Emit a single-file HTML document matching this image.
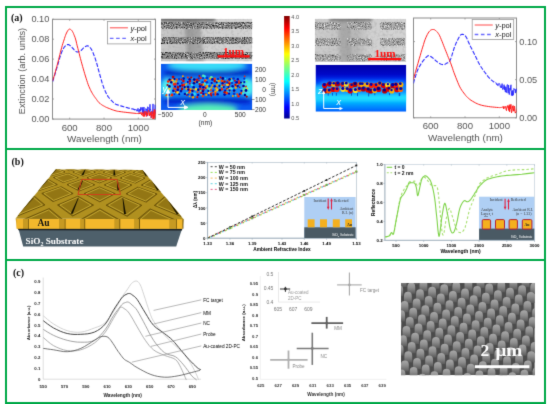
<!DOCTYPE html>
<html><head><meta charset="utf-8"><style>
html,body{margin:0;padding:0;background:#fff;}
body{width:550px;height:404px;overflow:hidden;}
svg{display:block;}
</style></head><body>
<svg width="550" height="404" viewBox="0 0 550 404">
<defs><filter id="gb" color-interpolation-filters="sRGB" filterUnits="userSpaceOnUse" x="0" y="0" width="550" height="404"><feConvolveMatrix order="3" kernelMatrix="0.0183 0.1353 0.0183 0.1353 1.0000 0.1353 0.0183 0.1353 0.0183" edgeMode="duplicate" preserveAlpha="true"/></filter></defs>
<g filter="url(#gb)">
<rect width="550" height="404" fill="#fff"/>
<text x="11" y="21" font-size="10" fill="#111" text-anchor="start" font-family="Liberation Serif" font-weight="bold">(a)</text>
<rect x="52.5" y="19.3" width="103" height="99.8" fill="none" stroke="#8c8c8c" stroke-width="1"/>
<line x1="69.7" y1="119.1" x2="69.7" y2="117.6" stroke="#8c8c8c" stroke-width="0.8"/>
<line x1="69.7" y1="19.3" x2="69.7" y2="20.8" stroke="#8c8c8c" stroke-width="0.8"/>
<text x="69.7" y="130.6" font-size="9.6" fill="#555" text-anchor="middle" font-family="Liberation Sans">600</text>
<line x1="104" y1="119.1" x2="104" y2="117.6" stroke="#8c8c8c" stroke-width="0.8"/>
<line x1="104" y1="19.3" x2="104" y2="20.8" stroke="#8c8c8c" stroke-width="0.8"/>
<text x="104" y="130.6" font-size="9.6" fill="#555" text-anchor="middle" font-family="Liberation Sans">800</text>
<line x1="138.3" y1="119.1" x2="138.3" y2="117.6" stroke="#8c8c8c" stroke-width="0.8"/>
<line x1="138.3" y1="19.3" x2="138.3" y2="20.8" stroke="#8c8c8c" stroke-width="0.8"/>
<text x="138.3" y="130.6" font-size="9.6" fill="#555" text-anchor="middle" font-family="Liberation Sans">1000</text>
<line x1="52.5" y1="119" x2="54" y2="119" stroke="#8c8c8c" stroke-width="0.8"/>
<line x1="155.5" y1="119" x2="154" y2="119" stroke="#8c8c8c" stroke-width="0.8"/>
<text x="49.3" y="122.2" font-size="9.2" fill="#555" text-anchor="end" font-family="Liberation Sans">0.00</text>
<line x1="52.5" y1="99" x2="54" y2="99" stroke="#8c8c8c" stroke-width="0.8"/>
<line x1="155.5" y1="99" x2="154" y2="99" stroke="#8c8c8c" stroke-width="0.8"/>
<text x="49.3" y="102.2" font-size="9.2" fill="#555" text-anchor="end" font-family="Liberation Sans">0.02</text>
<line x1="52.5" y1="79.1" x2="54" y2="79.1" stroke="#8c8c8c" stroke-width="0.8"/>
<line x1="155.5" y1="79.1" x2="154" y2="79.1" stroke="#8c8c8c" stroke-width="0.8"/>
<text x="49.3" y="82.3" font-size="9.2" fill="#555" text-anchor="end" font-family="Liberation Sans">0.04</text>
<line x1="52.5" y1="59.1" x2="54" y2="59.1" stroke="#8c8c8c" stroke-width="0.8"/>
<line x1="155.5" y1="59.1" x2="154" y2="59.1" stroke="#8c8c8c" stroke-width="0.8"/>
<text x="49.3" y="62.3" font-size="9.2" fill="#555" text-anchor="end" font-family="Liberation Sans">0.06</text>
<line x1="52.5" y1="39.2" x2="54" y2="39.2" stroke="#8c8c8c" stroke-width="0.8"/>
<line x1="155.5" y1="39.2" x2="154" y2="39.2" stroke="#8c8c8c" stroke-width="0.8"/>
<text x="49.3" y="42.4" font-size="9.2" fill="#555" text-anchor="end" font-family="Liberation Sans">0.08</text>
<line x1="52.5" y1="19.2" x2="54" y2="19.2" stroke="#8c8c8c" stroke-width="0.8"/>
<line x1="155.5" y1="19.2" x2="154" y2="19.2" stroke="#8c8c8c" stroke-width="0.8"/>
<text x="49.3" y="22.4" font-size="9.2" fill="#555" text-anchor="end" font-family="Liberation Sans">0.10</text>
<clipPath id="cp52"><rect x="52.5" y="19.3" width="103" height="99.8"/></clipPath>
<g clip-path="url(#cp52)">
<polyline points="52.7,81.5 53,80.5 53.4,79.2 53.9,77.5 54.5,75.8 55,74 55.6,72.2 56.1,70.2 56.8,68.1 57.4,66 58,64 58.6,61.9 59.2,59.8 59.8,57.7 60.4,55.8 61,54 61.6,52.4 62.2,51 62.8,49.7 63.4,48.5 64,47.5 64.7,46.6 65.4,45.9 66.1,45.3 66.9,44.9 67.5,44.6 68.1,44.5 68.5,44.6 69,44.8 69.5,45.1 70,45.5 70.6,46 71.2,46.5 71.8,47.2 72.4,47.9 73,48.5 73.6,49.1 74.2,49.8 74.9,50.5 75.5,51.1 76,51.5 76.5,51.8 76.9,51.9 77.3,52 77.7,52 78.2,51.9 78.7,51.8 79.3,51.5 79.8,51.3 80.4,50.9 81,50.5 81.6,50 82.2,49.3 82.8,48.7 83.4,48 84,47.5 84.5,47.1 85.1,46.7 85.6,46.4 86,46.2 86.5,46 86.9,45.9 87.4,45.9 87.8,45.9 88.2,46 88.6,46.2 89,46.4 89.4,46.7 89.8,47.1 90.1,47.5 90.5,48 90.8,48.4 91.1,48.8 91.5,49.3 91.8,50 92.3,51 92.9,52.4 93.6,54.2 94.3,56.1 95.1,58.2 95.8,60.4 96.5,62.6 97.2,65 97.8,67.5 98.5,70 99.2,72.5 99.9,75 100.6,77.5 101.3,80 102,82.4 102.7,84.6 103.4,86.6 104.1,88.5 104.8,90.2 105.5,91.8 106.2,93.3 106.9,94.6 107.5,95.6 108.1,96.6 108.8,97.5 109.6,98.5 110.6,99.6 111.6,100.7 112.8,101.9 113.9,102.9 115,103.7 115.9,104.3 116.8,104.7 117.7,104.9 118.7,105.2 120,105.6 121.7,106.1 123.6,106.7 125.8,107.3 127.9,107.9 130,108.4 132,108.9 132.3,108.9 132.7,109 133,109.1 133.3,109 133.7,109.3 134,109.5 134.3,109.4 134.7,109.9 135,109.2" fill="none" stroke="#2a2aff" stroke-width="1.1" stroke-linejoin="round" stroke-dasharray="4.2 1.5"/>
<polyline points="134.7,109.9 135,109.2 135.3,109.9 135.7,109.8 136,109.9 136.3,109.6 136.7,110.8 137,111.3 137.3,109.8 137.7,110.6 138,108.3 138.3,110.9 138.7,110.8 139,112.5 139.3,111.8 139.7,109.1 140,109.7 140.3,111.3 140.7,107.4 141,110.2 141.4,108.2 141.7,107.8 142.1,107.3 142.4,112.6 142.7,107.7 143,108.6 143.3,109.7 143.6,113.8 143.9,107 144.2,110.2 144.5,111.2 144.9,114.4 145.2,113.9 145.6,114.5 145.9,108.5 146.3,109.9 146.6,109.3 146.9,115.1 147.3,116.1 147.6,106.8 147.9,107 148.3,107.7 148.6,107.6 149,110.8 149.3,112.1 149.7,107.8 150,104.3 150.3,109.9 150.6,109.2 150.9,112 151.2,117.6 151.6,113.9 151.9,111.3 152.3,112.9 152.6,113.8 153,103.9 153.3,117.4 153.6,115.5 153.9,117 154.2,115.8 154.6,109.3 154.9,109.4 155.2,104.7 155.6,113.2 156,111" fill="none" stroke="#2a2aff" stroke-width="0.9" stroke-linejoin="round"/>
<polyline points="52.7,80.8 53,79.8 53.4,78.4 53.9,76.7 54.5,74.9 55,73 55.6,71 56.1,68.9 56.8,66.6 57.4,64.3 58,62 58.6,59.6 59.2,57.2 59.8,54.7 60.4,52.3 61,50 61.6,47.8 62.2,45.7 62.8,43.7 63.4,41.8 64,40 64.5,38.4 65,36.8 65.5,35.4 66,34.1 66.5,33 67,32 67.5,31.1 68,30.3 68.5,29.7 69,29.3 69.4,29.1 69.8,29.1 70.2,29.2 70.6,29.5 71,29.8 71.4,30.1 71.8,30.5 72.2,31 72.6,31.7 73,32.5 73.5,33.5 73.9,34.6 74.4,35.8 75,37.3 75.5,39 76.1,41 76.6,43.3 77.2,45.8 77.9,48.4 78.5,50.9 79.2,53.4 79.8,56.1 80.5,58.7 81.2,61.3 81.9,63.9 82.6,66.4 83.3,68.9 84,71.3 84.7,73.7 85.4,76 86.1,78.2 86.8,80.5 87.5,82.6 88.2,84.6 88.9,86.4 89.6,88 90.3,89.5 90.9,90.8 91.6,92.1 92.3,93.3 93,94.5 93.7,95.5 94.4,96.6 95.1,97.5 95.8,98.5 96.5,99.4 97.2,100.4 97.8,101.2 98.5,102.1 99.2,102.8 99.9,103.4 100.5,104 101.2,104.4 101.9,104.9 102.7,105.4 103.6,105.9 104.6,106.4 105.6,107 106.7,107.5 107.9,108 109.2,108.5 110.7,109.1 112.2,109.7 113.7,110.2 115,110.6 116.1,110.9 116.9,111.1 117.7,111.3 118.7,111.4 120,111.6 121.7,111.8 123.6,112.1 125.8,112.3 127.9,112.6 130,112.8 132,113 134,113.2 136,113.4 136.3,113.5 136.7,113.5 137,113.5 137.3,113.5 137.7,113.4 138,113.8 138.3,113.2 138.7,113.7 139,113.5 139.3,112.9 139.7,113.8 140,112.7 140.3,113.6 140.7,112.6 141,112.5 141.4,113.6 141.7,115.1 142.1,112.4 142.4,112.8 142.7,114.5 143,116.1 143.3,114.4 143.6,113.5 143.9,116.7 144.2,111.4 144.5,116.2 144.9,112.8 145.2,111.8 145.6,111.5 145.9,112.8 146.3,116.5 146.6,111.7 146.9,114.8 147.3,115.3 147.6,113.1 147.9,114.6 148.3,110.3 148.6,110.2 149,111.4 149.3,116 149.7,113.6 150,112.4 150.3,115.2 150.6,113.8 150.9,112.1 151.2,117.7 151.6,116.7 151.9,111.3 152.3,115.3 152.6,114.7 153,119.2 153.3,117.4 153.6,111.7 153.9,120.7 154.2,109.5 154.6,113.4 154.9,117.8 155.2,110 155.6,114.3 156,114.5" fill="none" stroke="#ff2020" stroke-width="1" stroke-linejoin="round"/>
</g>
<rect x="107.4" y="21.5" width="43.3" height="22.4" fill="#fff" stroke="#999" stroke-width="0.8"/>
<line x1="109.9" y1="27.8" x2="127.9" y2="27.8" stroke="#ff5a5a" stroke-width="1.1"/>
<line x1="109.9" y1="38.3" x2="127.9" y2="38.3" stroke="#6a6aff" stroke-width="1.3" stroke-dasharray="3.6 2.6"/>
<text x="130.4" y="30.5" font-size="7.5" fill="#111" text-anchor="start" font-family="Liberation Sans"><tspan font-style="italic">y</tspan>-pol</text>
<text x="130.4" y="41" font-size="7.5" fill="#222" text-anchor="start" font-family="Liberation Sans"><tspan font-style="italic">x</tspan>-pol</text>
<text x="24.5" y="71" font-size="9.2" fill="#555" text-anchor="middle" font-family="Liberation Sans" transform="rotate(-90 24.5 71)">Extinction (arb. units)</text>
<text x="104.5" y="141.8" font-size="9.9" fill="#555" text-anchor="middle" font-family="Liberation Sans">Wavelength (nm)</text>
<rect x="413.5" y="18" width="103" height="99.8" fill="none" stroke="#8c8c8c" stroke-width="1"/>
<line x1="430.7" y1="117.8" x2="430.7" y2="116.3" stroke="#8c8c8c" stroke-width="0.8"/>
<line x1="430.7" y1="18" x2="430.7" y2="19.5" stroke="#8c8c8c" stroke-width="0.8"/>
<text x="430.7" y="129.3" font-size="9.6" fill="#555" text-anchor="middle" font-family="Liberation Sans">600</text>
<line x1="465" y1="117.8" x2="465" y2="116.3" stroke="#8c8c8c" stroke-width="0.8"/>
<line x1="465" y1="18" x2="465" y2="19.5" stroke="#8c8c8c" stroke-width="0.8"/>
<text x="465" y="129.3" font-size="9.6" fill="#555" text-anchor="middle" font-family="Liberation Sans">800</text>
<line x1="499.3" y1="117.8" x2="499.3" y2="116.3" stroke="#8c8c8c" stroke-width="0.8"/>
<line x1="499.3" y1="18" x2="499.3" y2="19.5" stroke="#8c8c8c" stroke-width="0.8"/>
<text x="499.3" y="129.3" font-size="9.6" fill="#555" text-anchor="middle" font-family="Liberation Sans">1000</text>
<line x1="516.5" y1="117.8" x2="515" y2="117.8" stroke="#8c8c8c" stroke-width="0.8"/>
<line x1="413.5" y1="117.8" x2="415" y2="117.8" stroke="#8c8c8c" stroke-width="0.8"/>
<text x="519.3" y="121" font-size="9.2" fill="#555" text-anchor="start" font-family="Liberation Sans">0.00</text>
<line x1="516.5" y1="79.7" x2="515" y2="79.7" stroke="#8c8c8c" stroke-width="0.8"/>
<line x1="413.5" y1="79.7" x2="415" y2="79.7" stroke="#8c8c8c" stroke-width="0.8"/>
<text x="519.3" y="82.9" font-size="9.2" fill="#555" text-anchor="start" font-family="Liberation Sans">0.05</text>
<line x1="516.5" y1="41.6" x2="515" y2="41.6" stroke="#8c8c8c" stroke-width="0.8"/>
<line x1="413.5" y1="41.6" x2="415" y2="41.6" stroke="#8c8c8c" stroke-width="0.8"/>
<text x="519.3" y="44.8" font-size="9.2" fill="#555" text-anchor="start" font-family="Liberation Sans">0.10</text>
<clipPath id="cp413"><rect x="413.5" y="18" width="103" height="99.8"/></clipPath>
<g clip-path="url(#cp413)">
<polyline points="413.5,83.4 413.6,83 413.7,82.4 413.9,81.6 414.1,80.6 414.5,79.4 415,77.7 415.7,75.7 416.4,73.5 417.1,71.4 417.9,69.5 418.7,67.9 419.5,66.4 420.3,65.1 421.1,63.8 421.9,62.6 422.7,61.4 423.5,60.3 424.3,59.3 425.1,58.4 425.8,57.6 426.5,57 427.1,56.4 427.6,56 428.2,55.7 428.8,55.6 429.4,55.7 430,55.9 430.5,56.3 431.1,56.7 431.8,57.2 432.5,57.8 433.3,58.4 434.1,59.2 434.9,59.9 435.7,60.6 436.5,61.3 437.3,61.9 438.1,62.6 438.9,63.1 439.7,63.6 440.5,64 441.4,64.3 442.2,64.5 443,64.6 443.7,64.6 444.3,64.5 444.9,64.3 445.5,64 446,63.6 446.6,63.2 447.2,62.9 447.9,62.8 448.5,62.6 449.2,61.9 450,60.6 450.9,58.4 451.9,55.4 452.9,52.1 453.9,48.8 454.9,46 455.9,43.6 457,41.3 458,39.2 458.9,37.5 459.8,36.1 460.5,35.2 461.1,34.6 461.7,34.4 462.2,34.3 462.8,34.4 463.4,34.5 464,34.8 464.7,35.2 465.3,35.9 466,36.8 466.7,38 467.4,39.5 468.1,41.2 468.9,43 469.7,44.8 470.6,46.7 471.6,48.6 472.6,50.6 473.7,52.7 474.7,54.7 475.7,56.7 476.7,58.8 477.6,60.8 478.6,62.8 479.6,64.6 480.6,66.3 481.6,67.8 482.6,69.2 483.6,70.6 484.6,72 485.6,73.3 486.6,74.7 487.5,75.9 488.5,77.1 489.5,78.2 490.5,79.2 491.5,80.1 492.5,80.9 493.5,81.7 493.8,81.9 494.2,82.1 494.5,82.4 494.8,82.5 495.2,82.4 495.5,82.4 495.8,82.9" fill="none" stroke="#2a2aff" stroke-width="1.1" stroke-linejoin="round" stroke-dasharray="4.2 1.5"/>
<polyline points="495.8,82.9 496.1,82.9 496.5,83.9 496.8,84.7 497.1,83.7 497.4,85.2 497.8,85.6 498.1,85.8 498.4,83.9 498.7,83.5 499.1,83.6 499.4,83.6 499.7,83.7 500.1,85.8 500.4,87.5 500.7,87.4 501.1,85.6 501.4,86.8 501.7,88 502.1,83.6 502.4,87.5 502.7,89.5 503.1,88.8 503.4,88.8 503.7,86.9 504.1,84.7 504.4,89.8 504.7,86.1 505.1,90.3 505.4,92.1 505.7,87 506,87.1 506.4,92.6 506.7,90.6 507,85 507.3,84.5 507.7,84.8 508,93.2 508.3,92.3 508.6,85.1 509,92.8 509.3,94.6 509.6,91.2 510,88 510.3,90.3 510.7,85.9 511,84.8 511.4,95.5 511.8,92.2 512.1,91 512.5,95.7 512.8,90.3 513.1,95.3 513.4,95 513.9,88.4 514.3,89.1 514.7,89.7 515,89.2 515.4,93.1 515.7,89.6 516.2,91.5 516.7,88.4 517,92.5" fill="none" stroke="#2a2aff" stroke-width="0.9" stroke-linejoin="round"/>
<polyline points="413.5,79.4 413.7,78.7 413.9,77.7 414.2,76.4 414.6,75 415,73.5 415.5,71.8 416,70 416.6,68 417.2,65.9 417.9,63.6 418.6,61 419.4,58.2 420.3,55.3 421.1,52.4 421.9,49.7 422.7,47.1 423.5,44.6 424.2,42.1 425,39.8 425.8,37.8 426.6,36 427.4,34.4 428.2,33 429,31.8 429.8,30.9 430.6,30.2 431.3,29.8 432,29.6 432.7,29.5 433.4,29.5 434.1,29.6 434.8,29.9 435.4,30.4 436.1,30.9 436.7,31.5 437.3,32.1 437.9,32.8 438.4,33.6 439,34.5 439.7,35.8 440.4,37.4 441.2,39.4 442.1,41.5 442.9,43.6 443.7,45.7 444.5,47.7 445.3,49.7 446.1,51.7 446.9,53.7 447.6,55.6 448.3,57.3 449,58.9 449.6,60.5 450.3,62.2 451,64 451.7,66 452.5,68.2 453.2,70.4 454,72.7 454.9,75 455.8,77.4 456.8,79.9 457.8,82.4 458.8,84.8 459.8,86.9 460.8,88.7 461.8,90.3 462.8,91.7 463.8,93 464.8,94.3 465.7,95.5 466.6,96.5 467.6,97.5 468.6,98.4 469.7,99.3 471,100.3 472.5,101.2 474.1,102.1 475.7,103 477.2,103.7 478.6,104.3 480,104.8 481.5,105.2 483,105.6 484.6,105.9 486.4,106.2 488.4,106.5 490.4,106.8 492.5,107 494.5,107.2 496.5,107.4 498.5,107.5 498.8,107.5 499.1,107.6 499.4,107.6 499.8,107.6 500.1,107.6 500.4,107.5 500.8,107.5 501.1,107.4 501.4,107.5 501.8,107.1 502.1,106.9 502.4,107.1 502.8,106.9 503.1,107.5 503.4,106.5 503.7,109 504.1,108.2 504.4,106.7 504.7,107 505.1,107.3 505.4,107.4 505.8,106.3 506.1,109.8 506.5,110.6 506.8,107.9 507.1,108 507.4,105.7 507.8,105.7 508.1,107.2 508.4,106.6 508.7,110.5 509,105.8 509.3,104.7 509.6,111.8 509.9,108.6 510.2,105.5 510.6,108.8 510.9,104.3 511.2,108.7 511.5,112.8 511.8,111.8 512.1,110.3 512.5,106.4 512.8,107.4 513.1,105.6 513.4,111.1 513.7,108.9 514,111.2 514.3,107.2 514.6,106.2 515,111.5 515.3,113.1 515.7,112 516,111.5 516.5,111.7 516.7,111 517,108.8" fill="none" stroke="#ff2020" stroke-width="1" stroke-linejoin="round"/>
</g>
<rect x="472.2" y="19.4" width="41.5" height="20.1" fill="#fff" stroke="#999" stroke-width="0.8"/>
<line x1="474.7" y1="25" x2="492.7" y2="25" stroke="#ff5a5a" stroke-width="1.1"/>
<line x1="474.7" y1="34.5" x2="492.7" y2="34.5" stroke="#6a6aff" stroke-width="1.3" stroke-dasharray="3.6 2.6"/>
<text x="495.2" y="27.7" font-size="7.5" fill="#111" text-anchor="start" font-family="Liberation Sans"><tspan font-style="italic">y</tspan>-pol</text>
<text x="495.2" y="37.2" font-size="7.5" fill="#222" text-anchor="start" font-family="Liberation Sans"><tspan font-style="italic">x</tspan>-pol</text>
<text x="465.5" y="141.3" font-size="9.9" fill="#555" text-anchor="middle" font-family="Liberation Sans">Wavelength (nm)</text>
<defs>
<filter id="semn" x="0" y="0" width="100%" height="100%"><feTurbulence type="fractalNoise" baseFrequency="0.9" numOctaves="2" seed="4"/><feColorMatrix type="matrix" values="0 0 0 0 0  0 0 0 0 0  0 0 0 0 0  0 0 0 -2.4 1.35"/></filter>
<filter id="semw" x="0" y="0" width="100%" height="100%"><feTurbulence type="fractalNoise" baseFrequency="0.7" numOctaves="2" seed="9"/><feColorMatrix type="matrix" values="0 0 0 0 1  0 0 0 0 1  0 0 0 0 1  0 0 0 -2.4 1.2"/></filter>
<linearGradient id="jet" x1="0" y1="1" x2="0" y2="0">
<stop offset="0" stop-color="#00008f"/><stop offset="0.11" stop-color="#0000ff"/><stop offset="0.36" stop-color="#00ffff"/><stop offset="0.5" stop-color="#7fff7f"/><stop offset="0.63" stop-color="#ffff00"/><stop offset="0.88" stop-color="#ff0000"/><stop offset="1" stop-color="#7f0000"/></linearGradient>
<linearGradient id="semL" x1="0" y1="0" x2="1" y2="0"><stop offset="0" stop-color="#c9c9c9"/><stop offset="0.3" stop-color="#bdbdbd"/><stop offset="0.4" stop-color="#cfcfcf"/><stop offset="1" stop-color="#d3d3d3"/></linearGradient>
<linearGradient id="semR" x1="0" y1="0" x2="1" y2="0"><stop offset="0" stop-color="#cdcdcd"/><stop offset="0.33" stop-color="#c4c4c4"/><stop offset="0.45" stop-color="#b6b6b6"/><stop offset="0.6" stop-color="#d0d0d0"/><stop offset="1" stop-color="#d4d4d4"/></linearGradient>
<linearGradient id="cmR" x1="0" y1="0" x2="0" y2="1"><stop offset="0" stop-color="#0000a8"/><stop offset="0.2" stop-color="#0008c8"/><stop offset="0.33" stop-color="#0030f0"/><stop offset="0.58" stop-color="#0090ff"/><stop offset="0.7" stop-color="#18d8ff"/><stop offset="0.82" stop-color="#00a8ff"/><stop offset="1" stop-color="#0060ff"/></linearGradient>
<radialGradient id="cyT" cx="0.5" cy="0" r="0.55" gradientTransform="translate(0.5 0) scale(1 0.3) translate(-0.5 0)"><stop offset="0" stop-color="#50f0e8"/><stop offset="0.5" stop-color="#20c0fa" stop-opacity="0.8"/><stop offset="1" stop-color="#0050f0" stop-opacity="0"/></radialGradient>
<radialGradient id="cyB" cx="0.5" cy="1" r="0.55" gradientTransform="translate(0.5 1) scale(1 0.3) translate(-0.5 -1)"><stop offset="0" stop-color="#70f8a8"/><stop offset="0.45" stop-color="#30d8e0" stop-opacity="0.85"/><stop offset="1" stop-color="#0050f0" stop-opacity="0"/></radialGradient>
</defs>
<defs><filter id="semg" x="0" y="0" width="100%" height="100%"><feTurbulence type="fractalNoise" baseFrequency="0.35" numOctaves="2" seed="2"/><feColorMatrix type="matrix" values="0 0 0 0 0.3  0 0 0 0 0.3  0 0 0 0 0.3  0 0 0 -1.4 0.75"/></filter><filter id="sb2" x="-30%" y="-30%" width="160%" height="160%"><feGaussianBlur stdDeviation="1.5"/></filter></defs>
<clipPath id="sc161"><rect x="161" y="18.8" width="91.3" height="42.7"/></clipPath><g clip-path="url(#sc161)">
<rect x="161" y="18.8" width="91.3" height="42.7" fill="url(#semL)"/>
<rect x="161" y="18.8" width="91.3" height="42.7" fill="#000" filter="url(#semg)" opacity="0.6"/>
<g filter="url(#sb2)">
<polygon points="160,17 215,17 215,21.5 160,21.5" fill="#404040" opacity="0.7"/>
<polygon points="184,20 200,20 204,62 188,62" fill="#707070" opacity="0.45"/>
</g>
<rect x="161" y="22" width="91.3" height="6.5" rx="2" fill="#8a8a8a"/>
<rect x="161" y="22" width="91.3" height="6.5" fill="#000" filter="url(#semn)" opacity="1"/>
<rect x="161" y="22" width="91.3" height="6.5" fill="#fff" filter="url(#semw)"/>
<rect x="161" y="37" width="91.3" height="7" rx="2" fill="#8a8a8a"/>
<rect x="161" y="37" width="91.3" height="7" fill="#000" filter="url(#semn)" opacity="1"/>
<rect x="161" y="37" width="91.3" height="7" fill="#fff" filter="url(#semw)"/>
<rect x="161" y="52" width="91.3" height="7" rx="2" fill="#8a8a8a"/>
<rect x="161" y="52" width="91.3" height="7" fill="#000" filter="url(#semn)" opacity="1"/>
<rect x="161" y="52" width="91.3" height="7" fill="#fff" filter="url(#semw)"/>
</g>
<clipPath id="sc314"><rect x="314.8" y="18.7" width="91.4" height="43.3"/></clipPath><g clip-path="url(#sc314)">
<rect x="314.8" y="18.7" width="91.4" height="43.3" fill="url(#semR)"/>
<rect x="314.8" y="18.7" width="91.4" height="43.3" fill="#000" filter="url(#semg)" opacity="0.6"/>
<g filter="url(#sb2)">
<polygon points="330,16 372,16 372,21.5 330,21.5" fill="#505050" opacity="0.6"/>
<polygon points="338,20 350,20 352,62 340,62" fill="#808080" opacity="0.4"/>
</g>
<rect x="315" y="22.2" width="25.5" height="7.2" rx="2" fill="#a8a8a8"/>
<rect x="315" y="22.2" width="25.5" height="7.2" fill="#000" filter="url(#semn)" opacity="0.6"/>
<rect x="315" y="22.2" width="25.5" height="7.2" fill="#fff" filter="url(#semw)"/>
<rect x="347.6" y="22.2" width="24.4" height="7.2" rx="2" fill="#a8a8a8"/>
<rect x="347.6" y="22.2" width="24.4" height="7.2" fill="#000" filter="url(#semn)" opacity="0.6"/>
<rect x="347.6" y="22.2" width="24.4" height="7.2" fill="#fff" filter="url(#semw)"/>
<rect x="380.6" y="22.2" width="24.4" height="7.2" rx="2" fill="#a8a8a8"/>
<rect x="380.6" y="22.2" width="24.4" height="7.2" fill="#000" filter="url(#semn)" opacity="0.6"/>
<rect x="380.6" y="22.2" width="24.4" height="7.2" fill="#fff" filter="url(#semw)"/>
<rect x="315" y="38.3" width="25.5" height="7.1" rx="2" fill="#a8a8a8"/>
<rect x="315" y="38.3" width="25.5" height="7.1" fill="#000" filter="url(#semn)" opacity="0.6"/>
<rect x="315" y="38.3" width="25.5" height="7.1" fill="#fff" filter="url(#semw)"/>
<rect x="347.6" y="38.3" width="24.4" height="7.1" rx="2" fill="#a8a8a8"/>
<rect x="347.6" y="38.3" width="24.4" height="7.1" fill="#000" filter="url(#semn)" opacity="0.6"/>
<rect x="347.6" y="38.3" width="24.4" height="7.1" fill="#fff" filter="url(#semw)"/>
<rect x="380.6" y="38.3" width="24.4" height="7.1" rx="2" fill="#a8a8a8"/>
<rect x="380.6" y="38.3" width="24.4" height="7.1" fill="#000" filter="url(#semn)" opacity="0.6"/>
<rect x="380.6" y="38.3" width="24.4" height="7.1" fill="#fff" filter="url(#semw)"/>
<rect x="315" y="54.3" width="25.5" height="6.5" rx="2" fill="#a8a8a8"/>
<rect x="315" y="54.3" width="25.5" height="6.5" fill="#000" filter="url(#semn)" opacity="0.6"/>
<rect x="315" y="54.3" width="25.5" height="6.5" fill="#fff" filter="url(#semw)"/>
<rect x="347.6" y="54.3" width="24.4" height="6.5" rx="2" fill="#a8a8a8"/>
<rect x="347.6" y="54.3" width="24.4" height="6.5" fill="#000" filter="url(#semn)" opacity="0.6"/>
<rect x="347.6" y="54.3" width="24.4" height="6.5" fill="#fff" filter="url(#semw)"/>
<rect x="380.6" y="54.3" width="24.4" height="6.5" rx="2" fill="#a8a8a8"/>
<rect x="380.6" y="54.3" width="24.4" height="6.5" fill="#000" filter="url(#semn)" opacity="0.6"/>
<rect x="380.6" y="54.3" width="24.4" height="6.5" fill="#fff" filter="url(#semw)"/>
</g>
<rect x="217.6" y="55.2" width="32" height="2.3" fill="#ff1010"/>
<text x="233.6" y="55.2" font-size="11.2" fill="#ff1010" text-anchor="middle" font-family="Liberation Serif" font-weight="bold">1um</text>
<rect x="368.1" y="57.9" width="33" height="2.4" fill="#ff1010"/>
<text x="385.1" y="57" font-size="11.2" fill="#ff1010" text-anchor="middle" font-family="Liberation Serif" font-weight="bold">1um</text>
<defs><filter id="sblur" x="-5%" y="-20%" width="110%" height="140%"><feGaussianBlur stdDeviation="0.45"/></filter><filter id="bblur" x="-20%" y="-50%" width="140%" height="200%"><feGaussianBlur stdDeviation="2"/></filter></defs>
<clipPath id="cmlc"><rect x="161" y="63.7" width="91.3" height="46.3"/></clipPath><g clip-path="url(#cmlc)">
<rect x="161" y="63.7" width="91.3" height="46.3" fill="#0a5af0"/>
<g filter="url(#bblur)">
<ellipse cx="207" cy="65.5" rx="40" ry="5.5" fill="#38dcf8"/>
<ellipse cx="208" cy="109.5" rx="30" ry="5.5" fill="#58f0b8"/>
<rect x="165" y="71" width="85" height="4.5" fill="#0010b8"/>
<rect x="165" y="98" width="85" height="5" fill="#0018c0"/>
<rect x="166" y="76.5" width="83" height="20.5" fill="#1888f8"/>
<ellipse cx="166" cy="87.5" rx="5.5" ry="9" fill="#50f0f0"/><ellipse cx="249" cy="87.5" rx="5.5" ry="9" fill="#50f0f0"/>
</g>
<g filter="url(#sblur)">
<circle cx="171.9" cy="80.1" r="1.2" fill="#ff2000"/>
<circle cx="168.1" cy="81.5" r="1.2" fill="#ff2000"/>
<circle cx="170.5" cy="81.8" r="0.9" fill="#ffd020"/>
<circle cx="176.8" cy="79.7" r="1.1" fill="#ff4000"/>
<circle cx="173.1" cy="77.1" r="1.4" fill="#c00000"/>
<circle cx="175.2" cy="81.3" r="1" fill="#60f0a0"/>
<circle cx="181.4" cy="79.6" r="1" fill="#e00000"/>
<circle cx="182.9" cy="76.3" r="1" fill="#ffa000"/>
<circle cx="191.7" cy="78.2" r="0.9" fill="#30e0f0"/>
<circle cx="187.9" cy="77.5" r="1" fill="#ff2000"/>
<circle cx="191.3" cy="77.6" r="1.1" fill="#c00000"/>
<circle cx="195" cy="81.9" r="0.9" fill="#ff4000"/>
<circle cx="199.4" cy="76" r="1" fill="#c00000"/>
<circle cx="200.6" cy="78.1" r="1.1" fill="#ff2000"/>
<circle cx="203.3" cy="75.8" r="1.4" fill="#60f0a0"/>
<circle cx="204.6" cy="76.4" r="1.3" fill="#30e0f0"/>
<circle cx="205.8" cy="80.2" r="1.1" fill="#ffa000"/>
<circle cx="211.3" cy="77.3" r="1.4" fill="#60f0a0"/>
<circle cx="214.7" cy="78.7" r="1.3" fill="#ff4000"/>
<circle cx="210.1" cy="78.6" r="1.1" fill="#ffa000"/>
<circle cx="216.9" cy="81.1" r="1.4" fill="#30e0f0"/>
<circle cx="222" cy="80.8" r="1.4" fill="#ffa000"/>
<circle cx="220.6" cy="77.5" r="1" fill="#e00000"/>
<circle cx="225.2" cy="78.6" r="0.8" fill="#30e0f0"/>
<circle cx="227.7" cy="80.9" r="1.1" fill="#ff4000"/>
<circle cx="231.8" cy="80.4" r="1" fill="#60f0a0"/>
<circle cx="231.2" cy="78.9" r="1" fill="#ffa000"/>
<circle cx="246.1" cy="80.2" r="1.2" fill="#30e0f0"/>
<circle cx="244.7" cy="76.4" r="0.8" fill="#ff2000"/>
<circle cx="173.6" cy="82.5" r="1" fill="#ffd020"/>
<circle cx="169.5" cy="80.6" r="1.1" fill="#ff4000"/>
<circle cx="172.7" cy="80.3" r="1.2" fill="#ffd020"/>
<circle cx="176.2" cy="81.7" r="1.1" fill="#ffa000"/>
<circle cx="182.4" cy="85.3" r="1.3" fill="#e00000"/>
<circle cx="183.4" cy="81.1" r="1.3" fill="#e00000"/>
<circle cx="186.4" cy="84" r="1" fill="#ffa000"/>
<circle cx="189.9" cy="81" r="1.3" fill="#e00000"/>
<circle cx="189.7" cy="83.5" r="0.9" fill="#e00000"/>
<circle cx="192.1" cy="84.7" r="1.3" fill="#30e0f0"/>
<circle cx="194.5" cy="80.8" r="0.9" fill="#ffa000"/>
<circle cx="194.7" cy="80.9" r="0.9" fill="#ff4000"/>
<circle cx="199" cy="80.8" r="0.9" fill="#c00000"/>
<circle cx="197.1" cy="79.7" r="1.3" fill="#e00000"/>
<circle cx="199.4" cy="82.5" r="0.9" fill="#60f0a0"/>
<circle cx="203.2" cy="84.5" r="1.4" fill="#ffa000"/>
<circle cx="204.7" cy="83.1" r="0.8" fill="#60f0a0"/>
<circle cx="205.1" cy="83.8" r="1.1" fill="#30e0f0"/>
<circle cx="205" cy="80.8" r="1.2" fill="#ff2000"/>
<circle cx="207.7" cy="84.5" r="1.1" fill="#30e0f0"/>
<circle cx="212.5" cy="85.2" r="0.9" fill="#ffa000"/>
<circle cx="218.8" cy="83.5" r="1.1" fill="#30e0f0"/>
<circle cx="214.7" cy="81.1" r="1.3" fill="#c00000"/>
<circle cx="218.8" cy="81" r="1.3" fill="#ffa000"/>
<circle cx="224.5" cy="81.8" r="1.3" fill="#c00000"/>
<circle cx="222.1" cy="80.9" r="1.3" fill="#ff4000"/>
<circle cx="229.1" cy="83.7" r="1.4" fill="#c00000"/>
<circle cx="226.8" cy="84.7" r="1" fill="#ffd020"/>
<circle cx="229.8" cy="82" r="1" fill="#ff4000"/>
<circle cx="231.2" cy="80.7" r="1.4" fill="#30e0f0"/>
<circle cx="234.9" cy="80.7" r="1" fill="#e00000"/>
<circle cx="239" cy="83" r="1.2" fill="#e00000"/>
<circle cx="236.6" cy="84.7" r="1.3" fill="#ffd020"/>
<circle cx="238.6" cy="82.4" r="1.2" fill="#ff4000"/>
<circle cx="239" cy="81.1" r="1" fill="#ff2000"/>
<circle cx="246.7" cy="81.6" r="1.1" fill="#60f0a0"/>
<circle cx="242.1" cy="83.1" r="1.1" fill="#60f0a0"/>
<circle cx="167.5" cy="85" r="1.1" fill="#c00000"/>
<circle cx="169.2" cy="88.8" r="1.2" fill="#ffd020"/>
<circle cx="175.5" cy="84.2" r="1.2" fill="#ff2000"/>
<circle cx="174.2" cy="84.4" r="1.3" fill="#ff2000"/>
<circle cx="182.5" cy="85.9" r="0.8" fill="#c00000"/>
<circle cx="177.7" cy="86.4" r="0.8" fill="#e00000"/>
<circle cx="185.6" cy="84.9" r="0.9" fill="#60f0a0"/>
<circle cx="184.1" cy="84.8" r="1.2" fill="#ff2000"/>
<circle cx="188.7" cy="89.3" r="1" fill="#ff2000"/>
<circle cx="186.4" cy="88.8" r="1.2" fill="#ffa000"/>
<circle cx="187.8" cy="89.4" r="1" fill="#30e0f0"/>
<circle cx="193.1" cy="89.6" r="0.9" fill="#ffa000"/>
<circle cx="201.9" cy="85" r="1" fill="#c00000"/>
<circle cx="199.7" cy="84.1" r="1.2" fill="#e00000"/>
<circle cx="203.4" cy="89.7" r="1.3" fill="#e00000"/>
<circle cx="205.6" cy="88.2" r="1" fill="#ffd020"/>
<circle cx="205.7" cy="87.9" r="1.1" fill="#e00000"/>
<circle cx="211.4" cy="87.4" r="1.1" fill="#ffa000"/>
<circle cx="207.7" cy="87.9" r="1" fill="#60f0a0"/>
<circle cx="207" cy="86.3" r="1.3" fill="#ffa000"/>
<circle cx="216.4" cy="87.9" r="1.1" fill="#e00000"/>
<circle cx="216.1" cy="88.2" r="1.2" fill="#ffa000"/>
<circle cx="217.2" cy="85.2" r="1.1" fill="#ffa000"/>
<circle cx="221.5" cy="87.3" r="0.8" fill="#c00000"/>
<circle cx="221.6" cy="86.2" r="1.3" fill="#60f0a0"/>
<circle cx="224.9" cy="85" r="0.8" fill="#ff2000"/>
<circle cx="222.6" cy="85.1" r="1.2" fill="#ff4000"/>
<circle cx="228.7" cy="84.9" r="1" fill="#c00000"/>
<circle cx="227" cy="89.1" r="1" fill="#c00000"/>
<circle cx="227.9" cy="84.9" r="1.1" fill="#ffd020"/>
<circle cx="231.6" cy="88.4" r="1.4" fill="#30e0f0"/>
<circle cx="239.7" cy="87.3" r="0.8" fill="#c00000"/>
<circle cx="235.5" cy="84.8" r="1.2" fill="#e00000"/>
<circle cx="235.8" cy="87.6" r="1.3" fill="#ffa000"/>
<circle cx="244.6" cy="88.1" r="1.3" fill="#60f0a0"/>
<circle cx="245.9" cy="86.3" r="1.1" fill="#ff2000"/>
<circle cx="245.8" cy="85.5" r="0.8" fill="#30e0f0"/>
<circle cx="173.8" cy="88.3" r="1" fill="#ff4000"/>
<circle cx="175.1" cy="92.1" r="0.9" fill="#c00000"/>
<circle cx="174.7" cy="92.6" r="0.9" fill="#30e0f0"/>
<circle cx="178" cy="87.5" r="1.3" fill="#c00000"/>
<circle cx="176.5" cy="91.9" r="1.2" fill="#c00000"/>
<circle cx="175.4" cy="89.3" r="1.2" fill="#ff4000"/>
<circle cx="182.1" cy="88.9" r="1.3" fill="#c00000"/>
<circle cx="190.1" cy="90.4" r="1.3" fill="#ff2000"/>
<circle cx="190.4" cy="91.9" r="0.9" fill="#ffa000"/>
<circle cx="190.9" cy="89" r="1" fill="#ffa000"/>
<circle cx="196" cy="89.3" r="1.4" fill="#ffd020"/>
<circle cx="197.5" cy="92" r="1" fill="#ff4000"/>
<circle cx="200.4" cy="88.6" r="1.3" fill="#ff2000"/>
<circle cx="200.5" cy="91.3" r="1" fill="#ff2000"/>
<circle cx="201.4" cy="92.9" r="1.2" fill="#e00000"/>
<circle cx="200.5" cy="90.9" r="0.9" fill="#60f0a0"/>
<circle cx="209.3" cy="93" r="1.2" fill="#ffd020"/>
<circle cx="209.7" cy="89" r="1.3" fill="#60f0a0"/>
<circle cx="210.9" cy="90" r="1.1" fill="#ff4000"/>
<circle cx="215.4" cy="91.5" r="1.3" fill="#ffa000"/>
<circle cx="217.4" cy="89.9" r="1.3" fill="#ffd020"/>
<circle cx="221.9" cy="89.2" r="1.3" fill="#ff2000"/>
<circle cx="225.3" cy="92.9" r="1.2" fill="#30e0f0"/>
<circle cx="226.6" cy="92.5" r="0.9" fill="#c00000"/>
<circle cx="229.4" cy="88.2" r="1.1" fill="#ffd020"/>
<circle cx="227.3" cy="89.5" r="0.8" fill="#ffa000"/>
<circle cx="241.2" cy="93.2" r="1.3" fill="#ff4000"/>
<circle cx="243.5" cy="92" r="0.8" fill="#ffd020"/>
<circle cx="242.3" cy="93" r="1.3" fill="#ff4000"/>
<circle cx="248.4" cy="91.1" r="1.1" fill="#30e0f0"/>
<circle cx="247.2" cy="88.5" r="1" fill="#ffd020"/>
<circle cx="243.8" cy="89.7" r="1.2" fill="#60f0a0"/>
<circle cx="171.1" cy="95.7" r="0.9" fill="#ffa000"/>
<circle cx="166.7" cy="95.2" r="1.2" fill="#ff4000"/>
<circle cx="167.3" cy="96.3" r="0.9" fill="#60f0a0"/>
<circle cx="172.1" cy="94.9" r="1.3" fill="#ff2000"/>
<circle cx="177.6" cy="92.5" r="1.4" fill="#ffd020"/>
<circle cx="186.9" cy="95.1" r="0.9" fill="#e00000"/>
<circle cx="187.2" cy="93.1" r="1.2" fill="#60f0a0"/>
<circle cx="189.1" cy="92.4" r="0.9" fill="#ff4000"/>
<circle cx="189.6" cy="96.3" r="0.9" fill="#ffa000"/>
<circle cx="189.2" cy="92.5" r="0.9" fill="#ff4000"/>
<circle cx="194.7" cy="94.7" r="1" fill="#30e0f0"/>
<circle cx="194.4" cy="93.8" r="1.4" fill="#30e0f0"/>
<circle cx="193" cy="97.2" r="1.3" fill="#ffa000"/>
<circle cx="197" cy="97" r="1.2" fill="#30e0f0"/>
<circle cx="197.2" cy="97.1" r="1.2" fill="#e00000"/>
<circle cx="205.8" cy="94.1" r="0.9" fill="#c00000"/>
<circle cx="201.2" cy="94.6" r="0.9" fill="#30e0f0"/>
<circle cx="202.8" cy="96.1" r="1.2" fill="#ff4000"/>
<circle cx="208.9" cy="92.5" r="1.1" fill="#ffd020"/>
<circle cx="206.2" cy="94.9" r="1.1" fill="#ffa000"/>
<circle cx="210.8" cy="93.9" r="1.1" fill="#e00000"/>
<circle cx="212.1" cy="92.4" r="0.9" fill="#ff4000"/>
<circle cx="211.3" cy="95.6" r="1" fill="#c00000"/>
<circle cx="215.3" cy="94.8" r="1.1" fill="#ff4000"/>
<circle cx="215.5" cy="93.2" r="1.1" fill="#ff4000"/>
<circle cx="226.6" cy="93.3" r="1.2" fill="#c00000"/>
<circle cx="225.7" cy="92.5" r="1.2" fill="#ffd020"/>
<circle cx="224.7" cy="92.2" r="1.3" fill="#c00000"/>
<circle cx="226.8" cy="93" r="1.1" fill="#ff4000"/>
<circle cx="229.6" cy="91.4" r="1" fill="#ffa000"/>
<circle cx="228.9" cy="91.3" r="1.2" fill="#30e0f0"/>
<circle cx="234.3" cy="91.4" r="0.9" fill="#ffa000"/>
<circle cx="235.6" cy="95.7" r="0.9" fill="#30e0f0"/>
<circle cx="232.9" cy="95.9" r="1" fill="#ffa000"/>
<circle cx="238.5" cy="96.3" r="1.2" fill="#ff2000"/>
<circle cx="237.3" cy="94.3" r="1.1" fill="#ff4000"/>
<circle cx="243.2" cy="93.4" r="1.3" fill="#30e0f0"/>
<circle cx="247.3" cy="94.9" r="1.3" fill="#30e0f0"/>
<circle cx="246.7" cy="96.6" r="1.1" fill="#c00000"/>
<circle cx="169.6" cy="79.6" r="1.2" fill="#00008a"/>
<circle cx="174.5" cy="79" r="1.1" fill="#00008a"/>
<circle cx="179.1" cy="79.1" r="1.1" fill="#0030d0"/>
<circle cx="183.7" cy="78.6" r="1.3" fill="#0010a0"/>
<circle cx="189.6" cy="79.2" r="1.3" fill="#0010a0"/>
<circle cx="194.3" cy="79.6" r="1.4" fill="#00008a"/>
<circle cx="198.8" cy="78.4" r="1.1" fill="#0030d0"/>
<circle cx="203" cy="78.2" r="1.1" fill="#0030d0"/>
<circle cx="207" cy="78.1" r="1.4" fill="#0030d0"/>
<circle cx="212.4" cy="79.4" r="1.3" fill="#0000b0"/>
<circle cx="217.9" cy="78.9" r="1.2" fill="#0030d0"/>
<circle cx="222.8" cy="78.5" r="1.4" fill="#00008a"/>
<circle cx="229.6" cy="79.4" r="1.4" fill="#0010a0"/>
<circle cx="233.6" cy="78.5" r="1.3" fill="#0030d0"/>
<circle cx="237.8" cy="79.3" r="1.2" fill="#0000b0"/>
<circle cx="244.3" cy="78.7" r="1.1" fill="#0030d0"/>
<circle cx="171.2" cy="82.3" r="1.2" fill="#00008a"/>
<circle cx="177.8" cy="83.5" r="1" fill="#0000b0"/>
<circle cx="181.9" cy="82.9" r="1" fill="#0030d0"/>
<circle cx="187.8" cy="82.1" r="1" fill="#0000b0"/>
<circle cx="193.9" cy="83.2" r="1.3" fill="#00008a"/>
<circle cx="197" cy="82.1" r="1.1" fill="#00008a"/>
<circle cx="202.5" cy="82.2" r="1.2" fill="#0030d0"/>
<circle cx="206.9" cy="82.2" r="1.3" fill="#0030d0"/>
<circle cx="211.7" cy="83" r="1.1" fill="#0000b0"/>
<circle cx="216.7" cy="82.3" r="1" fill="#00008a"/>
<circle cx="222.5" cy="83.2" r="1.2" fill="#0010a0"/>
<circle cx="227.1" cy="82.3" r="1.1" fill="#0030d0"/>
<circle cx="232" cy="83" r="1.1" fill="#0030d0"/>
<circle cx="236.7" cy="82.3" r="1.4" fill="#0000b0"/>
<circle cx="240.9" cy="82.5" r="1.1" fill="#00008a"/>
<circle cx="244.3" cy="82.1" r="1.1" fill="#0010a0"/>
<circle cx="169.4" cy="86.4" r="1.4" fill="#00008a"/>
<circle cx="175.1" cy="86.6" r="1.1" fill="#0000b0"/>
<circle cx="180.1" cy="86.1" r="1.2" fill="#0000b0"/>
<circle cx="184.7" cy="87.1" r="1.1" fill="#00008a"/>
<circle cx="188" cy="87" r="1.3" fill="#0010a0"/>
<circle cx="193.7" cy="87.3" r="1.3" fill="#0010a0"/>
<circle cx="200.1" cy="86.5" r="1.4" fill="#0010a0"/>
<circle cx="203.4" cy="87.3" r="1.3" fill="#0000b0"/>
<circle cx="209.4" cy="86.2" r="1.1" fill="#0030d0"/>
<circle cx="214.7" cy="86.2" r="1.2" fill="#0000b0"/>
<circle cx="219.5" cy="85.9" r="1.1" fill="#0010a0"/>
<circle cx="223.8" cy="87.1" r="1" fill="#0000b0"/>
<circle cx="228.5" cy="87.2" r="1.1" fill="#0000b0"/>
<circle cx="232.6" cy="86.2" r="1.2" fill="#0010a0"/>
<circle cx="237.6" cy="86.1" r="1.3" fill="#0010a0"/>
<circle cx="243.5" cy="86" r="1.3" fill="#00008a"/>
<circle cx="173.3" cy="90.7" r="1.2" fill="#0000b0"/>
<circle cx="177.8" cy="89.8" r="1.4" fill="#0000b0"/>
<circle cx="181" cy="91.1" r="1.3" fill="#0010a0"/>
<circle cx="188.2" cy="89.7" r="1.1" fill="#00008a"/>
<circle cx="192.5" cy="90.8" r="1.2" fill="#00008a"/>
<circle cx="198.3" cy="89.7" r="1.2" fill="#00008a"/>
<circle cx="202.9" cy="91.1" r="1.2" fill="#00008a"/>
<circle cx="208.2" cy="90.9" r="1" fill="#0010a0"/>
<circle cx="213.2" cy="90.7" r="1.2" fill="#0030d0"/>
<circle cx="219.8" cy="90.3" r="1.3" fill="#00008a"/>
<circle cx="225.2" cy="90.5" r="1.1" fill="#0000b0"/>
<circle cx="229.5" cy="90.6" r="1.1" fill="#0010a0"/>
<circle cx="234.1" cy="90.6" r="1.3" fill="#00008a"/>
<circle cx="241.4" cy="90.8" r="1.1" fill="#0000b0"/>
<circle cx="246" cy="90.5" r="1.4" fill="#00008a"/>
<circle cx="169" cy="94.7" r="1.2" fill="#0030d0"/>
<circle cx="174.4" cy="94.2" r="1" fill="#0030d0"/>
<circle cx="179.2" cy="94.3" r="1" fill="#00008a"/>
<circle cx="184.9" cy="93.9" r="1.2" fill="#0010a0"/>
<circle cx="188" cy="94.5" r="1.1" fill="#0030d0"/>
<circle cx="192.3" cy="94.9" r="1.3" fill="#0010a0"/>
<circle cx="198.2" cy="94.9" r="1.2" fill="#0000b0"/>
<circle cx="203.4" cy="93.8" r="1.2" fill="#0000b0"/>
<circle cx="208.6" cy="94.9" r="1" fill="#0030d0"/>
<circle cx="213.4" cy="94.4" r="1.1" fill="#0030d0"/>
<circle cx="217.6" cy="94.3" r="1.2" fill="#0010a0"/>
<circle cx="224.6" cy="94.6" r="1.3" fill="#0000b0"/>
<circle cx="229.1" cy="93.7" r="1.1" fill="#0000b0"/>
<circle cx="234.1" cy="93.8" r="1.3" fill="#0030d0"/>
<circle cx="239.7" cy="94.3" r="1.1" fill="#0000b0"/>
<circle cx="244.9" cy="95" r="1.2" fill="#00008a"/>
</g>
</g>
<g stroke="#fff" stroke-width="1" fill="#fff">
<line x1="168" y1="107.4" x2="168" y2="91.5" stroke="#fff" stroke-width="1"/>
<line x1="168" y1="107.4" x2="186" y2="107.4" stroke="#fff" stroke-width="1"/>
<polygon points="168,89.5 166.3,93 169.7,93" fill="#fff"/>
<polygon points="188,107.4 184.5,105.7 184.5,109.1" fill="#fff"/>
</g>
<text x="162.5" y="91.5" font-size="9" fill="#fff" text-anchor="start" font-family="Liberation Sans" font-style="italic">y</text>
<text x="180.5" y="104.5" font-size="9" fill="#fff" text-anchor="start" font-family="Liberation Sans" font-style="italic">x</text>
<clipPath id="cmrc"><rect x="315.5" y="64.8" width="90.8" height="46.9"/></clipPath><g clip-path="url(#cmrc)">
<rect x="315.5" y="64.8" width="90.8" height="46.9" fill="url(#cmR)"/>
<g filter="url(#bblur)">
<rect x="321" y="81.5" width="84" height="12" fill="#1890ff"/>
<rect x="316" y="95" width="92" height="5" fill="#20e0ff"/>
<rect x="314" y="86" width="8" height="14" fill="#20d0ff"/>
</g>
<g filter="url(#sblur)">
<circle cx="324.7" cy="85.5" r="2.6" fill="#e00000"/>
<circle cx="325" cy="90.9" r="2.6" fill="#c00000"/>
<circle cx="329.5" cy="84.1" r="2.6" fill="#c00000"/>
<circle cx="328.8" cy="90.9" r="2.6" fill="#ff6000"/>
<circle cx="333.7" cy="84.2" r="2.6" fill="#ffb000"/>
<circle cx="333" cy="89.5" r="2.6" fill="#e00000"/>
<circle cx="337.4" cy="84" r="2.6" fill="#c00000"/>
<circle cx="336.8" cy="89.6" r="2.6" fill="#ff2000"/>
<circle cx="342.9" cy="84.3" r="2.6" fill="#ff2000"/>
<circle cx="343" cy="89.3" r="2.6" fill="#ffe020"/>
<circle cx="346.1" cy="84" r="2.6" fill="#ffe020"/>
<circle cx="347.3" cy="89.4" r="2.6" fill="#ffb000"/>
<circle cx="351.3" cy="85.7" r="2.6" fill="#ff2000"/>
<circle cx="350.2" cy="90.9" r="2.6" fill="#e00000"/>
<circle cx="355" cy="84.4" r="2.6" fill="#c00000"/>
<circle cx="355.4" cy="90.4" r="2.6" fill="#ffe020"/>
<circle cx="360.1" cy="84.6" r="2.6" fill="#ff6000"/>
<circle cx="359.3" cy="89.3" r="2.6" fill="#ff6000"/>
<circle cx="362.5" cy="84.6" r="2.6" fill="#ffb000"/>
<circle cx="363.4" cy="89" r="2.6" fill="#c00000"/>
<circle cx="367.3" cy="84.6" r="2.6" fill="#ffb000"/>
<circle cx="368" cy="90" r="2.6" fill="#e00000"/>
<circle cx="371.4" cy="85.4" r="2.6" fill="#ff2000"/>
<circle cx="370.7" cy="91" r="2.6" fill="#c00000"/>
<circle cx="375.9" cy="85.7" r="2.6" fill="#ff2000"/>
<circle cx="374.7" cy="90.6" r="2.6" fill="#ffb000"/>
<circle cx="379.6" cy="84" r="2.6" fill="#ff6000"/>
<circle cx="378.7" cy="89.4" r="2.6" fill="#e00000"/>
<circle cx="383.5" cy="85.5" r="2.6" fill="#e00000"/>
<circle cx="384.7" cy="90.9" r="2.6" fill="#c00000"/>
<circle cx="387.7" cy="85" r="2.6" fill="#ffe020"/>
<circle cx="388.4" cy="89.2" r="2.6" fill="#e00000"/>
<circle cx="393" cy="85.7" r="2.6" fill="#c00000"/>
<circle cx="391.8" cy="90.9" r="2.6" fill="#ffb000"/>
<circle cx="395.9" cy="85.2" r="2.6" fill="#ff2000"/>
<circle cx="396.9" cy="89.7" r="2.6" fill="#e00000"/>
<circle cx="400.8" cy="84.6" r="2.6" fill="#ffb000"/>
<circle cx="400.4" cy="89.4" r="2.6" fill="#ff6000"/>
<circle cx="324.3" cy="84.6" r="1.6" fill="#0000b0"/>
<circle cx="324.6" cy="90" r="1.7" fill="#0010a0"/>
<circle cx="329.9" cy="83.2" r="1.7" fill="#0000b0"/>
<circle cx="329.2" cy="90" r="1.5" fill="#0000b0"/>
<circle cx="333.7" cy="83.3" r="1.3" fill="#0000b0"/>
<circle cx="333.4" cy="88.6" r="1.3" fill="#0010a0"/>
<circle cx="337.8" cy="83.1" r="1.5" fill="#0000b0"/>
<circle cx="337.1" cy="88.7" r="1.3" fill="#0000b0"/>
<circle cx="342.7" cy="83.4" r="1.6" fill="#0010a0"/>
<circle cx="342.8" cy="88.4" r="1.6" fill="#0000b0"/>
<circle cx="346.3" cy="83.1" r="1.5" fill="#0000b0"/>
<circle cx="347.2" cy="88.5" r="1.6" fill="#0000b0"/>
<circle cx="351.6" cy="84.8" r="1.3" fill="#0010a0"/>
<circle cx="350.4" cy="90" r="1.7" fill="#0000b0"/>
<circle cx="355.1" cy="83.5" r="1.5" fill="#00008a"/>
<circle cx="355.4" cy="89.5" r="1.6" fill="#0000b0"/>
<circle cx="360.3" cy="83.7" r="1.4" fill="#0010a0"/>
<circle cx="359.4" cy="88.4" r="1.6" fill="#0000b0"/>
<circle cx="362.3" cy="83.7" r="1.4" fill="#0000b0"/>
<circle cx="363.3" cy="88.1" r="1.6" fill="#0010a0"/>
<circle cx="367.2" cy="83.7" r="1.4" fill="#0000b0"/>
<circle cx="368.1" cy="89.1" r="1.5" fill="#00008a"/>
<circle cx="371.1" cy="84.5" r="1.4" fill="#0000b0"/>
<circle cx="370.5" cy="90.1" r="1.2" fill="#0010a0"/>
<circle cx="376.1" cy="84.8" r="1.3" fill="#0010a0"/>
<circle cx="374.7" cy="89.7" r="1.7" fill="#0000b0"/>
<circle cx="379.7" cy="83.1" r="1.6" fill="#0010a0"/>
<circle cx="378.5" cy="88.5" r="1.7" fill="#00008a"/>
<circle cx="383.2" cy="84.6" r="1.4" fill="#0010a0"/>
<circle cx="384.4" cy="90" r="1.6" fill="#00008a"/>
<circle cx="387.9" cy="84.1" r="1.2" fill="#0000b0"/>
<circle cx="388.9" cy="88.3" r="1.3" fill="#00008a"/>
<circle cx="392.6" cy="84.8" r="1.7" fill="#0000b0"/>
<circle cx="391.5" cy="90" r="1.2" fill="#0000b0"/>
<circle cx="395.8" cy="84.3" r="1.5" fill="#00008a"/>
<circle cx="397" cy="88.8" r="1.3" fill="#0000b0"/>
<circle cx="400.3" cy="83.7" r="1.4" fill="#0000b0"/>
<circle cx="400.8" cy="88.5" r="1.6" fill="#0010a0"/>
<rect x="389" y="93" width="0.7" height="2.2" fill="#0030c0"/>
<rect x="327.8" y="93" width="0.7" height="2.7" fill="#0030c0"/>
<rect x="332.3" y="93" width="0.7" height="2.6" fill="#0030c0"/>
<rect x="351.1" y="93" width="0.7" height="2.7" fill="#0030c0"/>
<rect x="398.8" y="93" width="0.7" height="3.1" fill="#0030c0"/>
<rect x="357.3" y="93" width="0.7" height="3.1" fill="#0030c0"/>
<rect x="374.5" y="93" width="0.7" height="2.2" fill="#0030c0"/>
<rect x="335.9" y="93" width="0.7" height="2.7" fill="#0030c0"/>
<rect x="368.4" y="93" width="0.7" height="3.4" fill="#0030c0"/>
<rect x="399.5" y="93" width="0.7" height="2.7" fill="#0030c0"/>
</g>
</g>
<line x1="323.7" y1="108.5" x2="323.7" y2="92.5" stroke="#fff" stroke-width="1"/>
<line x1="323.7" y1="108.5" x2="341" y2="108.5" stroke="#fff" stroke-width="1"/>
<polygon points="323.7,90.5 322,94 325.4,94" fill="#fff"/>
<polygon points="343,108.5 339.5,106.8 339.5,110.2" fill="#fff"/>
<text x="318" y="93.5" font-size="9" fill="#fff" text-anchor="start" font-family="Liberation Sans" font-style="italic">z</text>
<text x="336.5" y="105" font-size="9" fill="#fff" text-anchor="start" font-family="Liberation Sans" font-style="italic">x</text>
<text x="165.4" y="117.4" font-size="6.6" fill="#333" text-anchor="middle" font-family="Liberation Sans">−500</text>
<text x="204.8" y="117.4" font-size="6.6" fill="#333" text-anchor="middle" font-family="Liberation Sans">0</text>
<text x="240.3" y="117.4" font-size="6.6" fill="#333" text-anchor="middle" font-family="Liberation Sans">500</text>
<text x="205.4" y="125.2" font-size="6.6" fill="#333" text-anchor="middle" font-family="Liberation Sans">(nm)</text>
<text x="266" y="72.3" font-size="6.6" fill="#333" text-anchor="end" font-family="Liberation Sans">200</text>
<text x="266" y="82.3" font-size="6.6" fill="#333" text-anchor="end" font-family="Liberation Sans">100</text>
<text x="266" y="91.9" font-size="6.6" fill="#333" text-anchor="end" font-family="Liberation Sans">0</text>
<text x="266" y="101.8" font-size="6.6" fill="#333" text-anchor="end" font-family="Liberation Sans">−100</text>
<text x="266" y="111.7" font-size="6.6" fill="#333" text-anchor="end" font-family="Liberation Sans">−200</text>
<text x="270.5" y="89.5" font-size="6.6" fill="#333" text-anchor="middle" font-family="Liberation Sans" transform="rotate(90 270.5 89.5)">(nm)</text>
<rect x="284.1" y="16" width="5.6" height="102.5" fill="url(#jet)"/>
<text x="291.3" y="18.7" font-size="5.6" fill="#555" text-anchor="start" font-family="Liberation Sans">4.0</text>
<text x="291.3" y="33.2" font-size="5.6" fill="#555" text-anchor="start" font-family="Liberation Sans">3.5</text>
<text x="291.3" y="47.7" font-size="5.6" fill="#555" text-anchor="start" font-family="Liberation Sans">3.0</text>
<text x="291.3" y="62.2" font-size="5.6" fill="#555" text-anchor="start" font-family="Liberation Sans">2.5</text>
<text x="291.3" y="76.7" font-size="5.6" fill="#555" text-anchor="start" font-family="Liberation Sans">2.0</text>
<text x="291.3" y="91.2" font-size="5.6" fill="#555" text-anchor="start" font-family="Liberation Sans">1.5</text>
<text x="291.3" y="105.7" font-size="5.6" fill="#555" text-anchor="start" font-family="Liberation Sans">1.0</text>
<text x="291.3" y="120.2" font-size="5.6" fill="#555" text-anchor="start" font-family="Liberation Sans">0.5</text>
<text x="11.5" y="164.5" font-size="10" fill="#111" text-anchor="start" font-family="Liberation Serif" font-weight="bold">(b)</text>
<polygon points="18.6,229.2 181.8,229.6 176.2,246.4 23.2,246.4" fill="#4e606b"/>
<polygon points="17.4,228 182.6,228.4 181.8,230.4 18.6,230.2" fill="#1c2024"/>
<polygon points="15.6,218.6 183.6,219.2 182.6,228.8 17,228.6" fill="#c8971c"/>
<rect x="16.5" y="218.9" width="6.6" height="9.8" fill="#f3b82c"/>
<rect x="23.1" y="218.9" width="4.9" height="9.8" fill="#c79a22"/>
<rect x="28" y="218.9" width="0.8" height="9.8" fill="#5a4506"/>
<rect x="28.8" y="218.9" width="30.3" height="9.8" fill="#f3b82c"/>
<rect x="59.1" y="218.9" width="5.7" height="9.8" fill="#c79a22"/>
<rect x="64.8" y="218.9" width="0.8" height="9.8" fill="#5a4506"/>
<rect x="65.6" y="218.9" width="14.8" height="9.8" fill="#f3b82c"/>
<rect x="80.4" y="218.9" width="4.1" height="9.8" fill="#c79a22"/>
<rect x="84.5" y="218.9" width="0.8" height="9.8" fill="#5a4506"/>
<rect x="85.3" y="218.9" width="29.3" height="9.8" fill="#f3b82c"/>
<rect x="114.6" y="218.9" width="4.9" height="9.8" fill="#c79a22"/>
<rect x="119.5" y="218.9" width="0.8" height="9.8" fill="#5a4506"/>
<rect x="120.4" y="218.9" width="13.9" height="9.8" fill="#f3b82c"/>
<rect x="134.3" y="218.9" width="4.9" height="9.8" fill="#c79a22"/>
<rect x="139.2" y="218.9" width="0.8" height="9.8" fill="#5a4506"/>
<rect x="140" y="218.9" width="29.5" height="9.8" fill="#f3b82c"/>
<rect x="169.5" y="218.9" width="6.5" height="9.8" fill="#c79a22"/>
<rect x="176" y="218.9" width="0.8" height="9.8" fill="#5a4506"/>
<rect x="176.8" y="218.9" width="5.8" height="9.8" fill="#f3b82c"/>
<rect x="182.6" y="218.9" width="0.8" height="9.8" fill="#5a4506"/>
<polygon points="15.6,218.6 183.6,219.2 142.4,170 55.8,169.4" fill="#b0901f"/>
<clipPath id="topc"><polygon points="15.6,218.6 183.6,219.2 142.4,170 55.8,169.4"/></clipPath><g clip-path="url(#topc)">
<polygon points="-32,236 6.6,220.4 -1.6,208.3 -36.2,220.2" fill="#8c7012" stroke="#5e4806" stroke-width="0.8"/>
<polygon points="-29.4,233.6 3.7,220.4 -3.2,209.7 -33.3,220.2" fill="#937614" stroke="#d8bc40" stroke-width="0.7"/>
<polygon points="-23.7,266.7 21.8,242.8 10,225.4 -30.2,242.7" fill="#8c7012" stroke="#5e4806" stroke-width="0.8"/>
<polygon points="-20.6,263 18.3,242.8 8.4,227.5 -26.6,242.7" fill="#937614" stroke="#d8bc40" stroke-width="0.7"/>
<polygon points="8.6,228.3 9.2,228.3 -20.9,261.5 -22.9,261.5" fill="#141000"/>
<polygon points="34.5,236.1 64.1,220.6 49.3,208.5 21.6,220.4" fill="#8c7012" stroke="#5e4806" stroke-width="0.8"/>
<polygon points="35.8,233.8 61.3,220.6 48.6,210 24.5,220.4" fill="#937614" stroke="#d8bc40" stroke-width="0.7"/>
<polygon points="59.6,266.7 91.5,242.9 70.3,225.6 40,242.8" fill="#8c7012" stroke="#5e4806" stroke-width="0.8"/>
<polygon points="60.6,263 88,242.9 69.7,227.6 43.5,242.8" fill="#937614" stroke="#d8bc40" stroke-width="0.7"/>
<polygon points="70.4,228.5 71,228.5 59.5,261.6 57.5,261.6" fill="#141000"/>
<polygon points="100.4,236.3 121.2,220.8 99.9,208.7 79,220.6" fill="#8c7012" stroke="#5e4806" stroke-width="0.8"/>
<polygon points="100.3,233.9 118.3,220.8 99.9,210.2 81.9,220.6" fill="#937614" stroke="#d8bc40" stroke-width="0.7"/>
<polygon points="142,266.8 160.5,243.1 130,225.8 109.5,243" fill="#8c7012" stroke="#5e4806" stroke-width="0.8"/>
<polygon points="140.9,263 157.1,243.1 130.6,227.8 113,243" fill="#937614" stroke="#d8bc40" stroke-width="0.7"/>
<polygon points="131.8,228.7 132.4,228.7 139.1,261.6 137.1,261.6" fill="#141000"/>
<polygon points="165.7,236.4 177.8,221 150.1,208.9 135.9,220.8" fill="#8c7012" stroke="#5e4806" stroke-width="0.8"/>
<polygon points="164.3,234.1 175,221 150.9,210.4 138.8,220.8" fill="#937614" stroke="#d8bc40" stroke-width="0.7"/>
<polygon points="223.5,266.8 228.9,243.2 189.3,226 178.3,243.1" fill="#8c7012" stroke="#5e4806" stroke-width="0.8"/>
<polygon points="220.4,263.1 225.5,243.2 191,228 181.8,243.1" fill="#937614" stroke="#d8bc40" stroke-width="0.7"/>
<polygon points="192.6,228.9 193.2,228.9 217.8,261.7 215.8,261.7" fill="#141000"/>
<polygon points="230.4,236.6 233.9,221.2 200,209.2 192.4,221" fill="#8c7012" stroke="#5e4806" stroke-width="0.8"/>
<polygon points="227.8,234.2 231.1,221.2 201.6,210.6 195.2,221" fill="#937614" stroke="#d8bc40" stroke-width="0.7"/>
<polygon points="6,201.4 30.7,193.3 22.4,186.5 -0.8,193.1" fill="#8c7012" stroke="#5e4806" stroke-width="0.8"/>
<polygon points="7.3,200.2 28.6,193.3 21.5,187.3 1.4,193.1" fill="#937614" stroke="#d8bc40" stroke-width="0.7"/>
<polygon points="17.9,215.8 44.9,204.9 34.1,196 8.7,204.7" fill="#8c7012" stroke="#5e4806" stroke-width="0.8"/>
<polygon points="19.2,214.2 42.5,204.9 33.2,197.1 11.2,204.7" fill="#937614" stroke="#d8bc40" stroke-width="0.7"/>
<polygon points="33.4,197.5 34,197.5 19.1,213.5 17.1,213.5" fill="#141000"/>
<polygon points="53,201.6 73.1,193.5 61.1,186.7 41.8,193.4" fill="#8c7012" stroke="#5e4806" stroke-width="0.8"/>
<polygon points="53.7,200.4 71,193.5 60.6,187.5 43.9,193.4" fill="#937614" stroke="#d8bc40" stroke-width="0.7"/>
<polygon points="72.7,216 93.5,205.1 77.9,196.2 57.6,205" fill="#8c7012" stroke="#5e4806" stroke-width="0.8"/>
<polygon points="73.2,214.4 91.1,205.1 77.6,197.3 60,205" fill="#937614" stroke="#d8bc40" stroke-width="0.7"/>
<polygon points="78.1,197.8 78.7,197.8 72.7,213.8 70.7,213.8" fill="#141000"/>
<polygon points="99.8,201.8 115.2,193.7 99.5,186.9 84.1,193.6" fill="#8c7012" stroke="#5e4806" stroke-width="0.8"/>
<polygon points="99.8,200.6 113.1,193.7 99.5,187.8 86.2,193.6" fill="#937614" stroke="#d8bc40" stroke-width="0.7"/>
<polygon points="127.2,216.3 141.8,205.3 121.4,196.5 106.1,205.2" fill="#8c7012" stroke="#5e4806" stroke-width="0.8"/>
<polygon points="126.7,214.6 139.4,205.3 121.8,197.5 108.6,205.2" fill="#937614" stroke="#d8bc40" stroke-width="0.7"/>
<polygon points="122.5,198 123.1,198 126,214 124,214" fill="#141000"/>
<polygon points="146.2,202.1 157.1,194 137.8,187.2 126.1,193.8" fill="#8c7012" stroke="#5e4806" stroke-width="0.8"/>
<polygon points="145.5,200.9 155,194 138.3,188 128.2,193.8" fill="#937614" stroke="#d8bc40" stroke-width="0.7"/>
<polygon points="181.3,216.5 189.8,205.6 164.7,196.7 154.3,205.4" fill="#8c7012" stroke="#5e4806" stroke-width="0.8"/>
<polygon points="179.9,214.8 187.4,205.5 165.7,197.8 156.7,205.4" fill="#937614" stroke="#d8bc40" stroke-width="0.7"/>
<polygon points="166.6,198.2 167.2,198.2 178.8,214.2 176.8,214.2" fill="#141000"/>
<polygon points="192.4,202.3 198.7,194.2 175.9,187.4 167.9,194" fill="#8c7012" stroke="#5e4806" stroke-width="0.8"/>
<polygon points="191,201.1 196.6,194.2 176.8,188.2 170,194" fill="#937614" stroke="#d8bc40" stroke-width="0.7"/>
<polygon points="26.8,182.4 44.8,177.5 37.1,173.1 19.9,177.3" fill="#8c7012" stroke="#5e4806" stroke-width="0.8"/>
<polygon points="27.6,181.7 43.1,177.5 36.5,173.7 21.6,177.3" fill="#937614" stroke="#d8bc40" stroke-width="0.7"/>
<polygon points="38.3,190.8 57.3,184.6 47.8,179.2 29.6,184.4" fill="#8c7012" stroke="#5e4806" stroke-width="0.8"/>
<polygon points="39.1,189.9 55.4,184.6 47.3,179.9 31.4,184.4" fill="#937614" stroke="#d8bc40" stroke-width="0.7"/>
<polygon points="47.4,180.1 48,180.1 39.1,189.5 37.1,189.5" fill="#141000"/>
<polygon points="63.2,182.6 78.3,177.7 68.2,173.3 53.5,177.5" fill="#8c7012" stroke="#5e4806" stroke-width="0.8"/>
<polygon points="63.6,181.9 76.7,177.7 68,173.9 55.2,177.6" fill="#937614" stroke="#d8bc40" stroke-width="0.7"/>
<polygon points="79.2,191 94.7,184.8 82.2,179.4 67,184.6" fill="#8c7012" stroke="#5e4806" stroke-width="0.8"/>
<polygon points="79.5,190.1 92.8,184.8 82.1,180.1 68.9,184.7" fill="#937614" stroke="#d8bc40" stroke-width="0.7"/>
<polygon points="82.4,180.4 83,180.4 79.4,189.8 77.4,189.8" fill="#141000"/>
<polygon points="99.5,182.9 111.7,177.9 99.3,173.5 87,177.8" fill="#8c7012" stroke="#5e4806" stroke-width="0.8"/>
<polygon points="99.4,182.1 110,177.9 99.3,174.1 88.7,177.8" fill="#937614" stroke="#d8bc40" stroke-width="0.7"/>
<polygon points="119.9,191.3 131.8,185 116.5,179.6 104.3,184.9" fill="#8c7012" stroke="#5e4806" stroke-width="0.8"/>
<polygon points="119.7,190.3 129.9,185 116.7,180.3 106.2,184.9" fill="#937614" stroke="#d8bc40" stroke-width="0.7"/>
<polygon points="117.2,180.6 117.8,180.6 119.3,190 117.3,190" fill="#141000"/>
<polygon points="135.5,183.1 144.9,178.1 130.2,173.7 120.4,178" fill="#8c7012" stroke="#5e4806" stroke-width="0.8"/>
<polygon points="135.1,182.4 143.3,178.1 130.5,174.3 122,178" fill="#937614" stroke="#d8bc40" stroke-width="0.7"/>
<polygon points="160.4,191.5 168.8,185.2 150.6,179.8 141.4,185.1" fill="#8c7012" stroke="#5e4806" stroke-width="0.8"/>
<polygon points="159.6,190.6 166.9,185.2 151.2,180.5 143.3,185.1" fill="#937614" stroke="#d8bc40" stroke-width="0.7"/>
<polygon points="151.8,180.8 152.4,180.8 159.1,190.2 157.1,190.2" fill="#141000"/>
<polygon points="171.4,183.3 178,178.3 161,173.9 153.5,178.2" fill="#8c7012" stroke="#5e4806" stroke-width="0.8"/>
<polygon points="170.5,182.6 176.3,178.3 161.6,174.5 155.2,178.2" fill="#937614" stroke="#d8bc40" stroke-width="0.7"/>
<polygon points="40,170.4 54,167.1 47,164.1 33.4,167" fill="#8c7012" stroke="#5e4806" stroke-width="0.8"/>
<polygon points="40.5,170 52.6,167.1 46.6,164.5 34.8,167" fill="#937614" stroke="#d8bc40" stroke-width="0.7"/>
<polygon points="50.5,175.9 65,171.9 56.7,168.3 42.5,171.8" fill="#8c7012" stroke="#5e4806" stroke-width="0.8"/>
<polygon points="50.9,175.3 63.5,171.9 56.3,168.8 44.1,171.8" fill="#937614" stroke="#d8bc40" stroke-width="0.7"/>
<polygon points="56.5,168.9 57.1,168.9 51.2,175.1 49.2,175.1" fill="#141000"/>
<polygon points="69.7,170.7 81.8,167.3 73.1,164.3 61.2,167.2" fill="#8c7012" stroke="#5e4806" stroke-width="0.8"/>
<polygon points="69.9,170.2 80.4,167.3 72.9,164.7 62.6,167.2" fill="#937614" stroke="#d8bc40" stroke-width="0.7"/>
<polygon points="83.1,176.1 95.3,172.1 85.1,168.5 72.9,172" fill="#8c7012" stroke="#5e4806" stroke-width="0.8"/>
<polygon points="83.2,175.6 93.8,172.1 84.9,169 74.4,172" fill="#937614" stroke="#d8bc40" stroke-width="0.7"/>
<polygon points="85.2,169.1 85.8,169.1 83.3,175.3 81.3,175.3" fill="#141000"/>
<polygon points="99.2,170.9 109.4,167.5 99.1,164.5 89,167.4" fill="#8c7012" stroke="#5e4806" stroke-width="0.8"/>
<polygon points="99.2,170.4 108,167.5 99.1,164.8 90.3,167.4" fill="#937614" stroke="#d8bc40" stroke-width="0.7"/>
<polygon points="115.6,176.4 125.5,172.3 113.3,168.7 103.2,172.2" fill="#8c7012" stroke="#5e4806" stroke-width="0.8"/>
<polygon points="115.4,175.8 124,172.3 113.5,169.2 104.7,172.2" fill="#937614" stroke="#d8bc40" stroke-width="0.7"/>
<polygon points="113.8,169.3 114.4,169.3 115.4,175.5 113.4,175.5" fill="#141000"/>
<polygon points="128.7,171.1 136.9,167.7 125.1,164.6 116.6,167.6" fill="#8c7012" stroke="#5e4806" stroke-width="0.8"/>
<polygon points="128.4,170.6 135.6,167.7 125.3,165 118,167.6" fill="#937614" stroke="#d8bc40" stroke-width="0.7"/>
<polygon points="147.9,176.6 155.6,172.5 141.5,168.9 133.3,172.4" fill="#8c7012" stroke="#5e4806" stroke-width="0.8"/>
<polygon points="147.4,176 154.1,172.5 141.9,169.3 134.8,172.4" fill="#937614" stroke="#d8bc40" stroke-width="0.7"/>
<polygon points="142.3,169.5 142.9,169.5 147.3,175.7 145.3,175.7" fill="#141000"/>
<polygon points="158,171.3 164.4,167.9 150.9,164.8 144.1,167.8" fill="#8c7012" stroke="#5e4806" stroke-width="0.8"/>
<polygon points="157.5,170.8 163,167.9 151.3,165.2 145.5,167.8" fill="#937614" stroke="#d8bc40" stroke-width="0.7"/>
</g>
<polygon points="81.7,179.4 116.9,179.4 120.5,194.5 78,194.5" fill="none" stroke="#d0401a" stroke-width="1"/>
<text x="37.5" y="226.2" font-size="9.5" fill="#111" text-anchor="start" font-family="Liberation Serif" font-weight="bold">Au</text>
<text x="25.6" y="243.8" font-size="9.2" fill="#fff" text-anchor="start" font-family="Liberation Serif" font-weight="bold">SiO<tspan font-size="6" dy="2">2</tspan><tspan dy="-2"> Substrate</tspan></text>
<rect x="207.6" y="162.4" width="148.8" height="75.8" fill="none" stroke="#b4c2ce" stroke-width="0.7"/>
<line x1="207.6" y1="162.4" x2="207.6" y2="238.2" stroke="#9aaab8" stroke-width="0.8"/>
<line x1="207.6" y1="238.2" x2="356.4" y2="238.2" stroke="#9aaab8" stroke-width="0.8"/>
<line x1="206.1" y1="238.2" x2="207.6" y2="238.2" stroke="#9aaab8" stroke-width="0.7"/>
<text x="205.4" y="239.8" font-size="4.4" fill="#000" text-anchor="end" font-family="Liberation Sans" font-weight="bold">0</text>
<line x1="206.1" y1="223" x2="207.6" y2="223" stroke="#9aaab8" stroke-width="0.7"/>
<text x="205.4" y="224.6" font-size="4.4" fill="#000" text-anchor="end" font-family="Liberation Sans" font-weight="bold">50</text>
<line x1="206.1" y1="207.9" x2="207.6" y2="207.9" stroke="#9aaab8" stroke-width="0.7"/>
<text x="205.4" y="209.5" font-size="4.4" fill="#000" text-anchor="end" font-family="Liberation Sans" font-weight="bold">100</text>
<line x1="206.1" y1="192.7" x2="207.6" y2="192.7" stroke="#9aaab8" stroke-width="0.7"/>
<text x="205.4" y="194.3" font-size="4.4" fill="#000" text-anchor="end" font-family="Liberation Sans" font-weight="bold">150</text>
<line x1="206.1" y1="177.6" x2="207.6" y2="177.6" stroke="#9aaab8" stroke-width="0.7"/>
<text x="205.4" y="179.2" font-size="4.4" fill="#000" text-anchor="end" font-family="Liberation Sans" font-weight="bold">200</text>
<line x1="206.1" y1="162.4" x2="207.6" y2="162.4" stroke="#9aaab8" stroke-width="0.7"/>
<text x="205.4" y="164" font-size="4.4" fill="#000" text-anchor="end" font-family="Liberation Sans" font-weight="bold">250</text>
<line x1="207.6" y1="238.2" x2="207.6" y2="239.7" stroke="#9aaab8" stroke-width="0.7"/>
<line x1="207.6" y1="162.4" x2="207.6" y2="163.6" stroke="#9aaab8" stroke-width="0.5"/>
<text x="207.6" y="245.3" font-size="4.4" fill="#000" text-anchor="middle" font-family="Liberation Sans" font-weight="bold">1.33</text>
<line x1="229.9" y1="238.2" x2="229.9" y2="239.7" stroke="#9aaab8" stroke-width="0.7"/>
<line x1="229.9" y1="162.4" x2="229.9" y2="163.6" stroke="#9aaab8" stroke-width="0.5"/>
<text x="229.9" y="245.3" font-size="4.4" fill="#000" text-anchor="middle" font-family="Liberation Sans" font-weight="bold">1.36</text>
<line x1="252.2" y1="238.2" x2="252.2" y2="239.7" stroke="#9aaab8" stroke-width="0.7"/>
<line x1="252.2" y1="162.4" x2="252.2" y2="163.6" stroke="#9aaab8" stroke-width="0.5"/>
<text x="252.2" y="245.3" font-size="4.4" fill="#000" text-anchor="middle" font-family="Liberation Sans" font-weight="bold">1.39</text>
<line x1="282" y1="238.2" x2="282" y2="239.7" stroke="#9aaab8" stroke-width="0.7"/>
<line x1="282" y1="162.4" x2="282" y2="163.6" stroke="#9aaab8" stroke-width="0.5"/>
<text x="282" y="245.3" font-size="4.4" fill="#000" text-anchor="middle" font-family="Liberation Sans" font-weight="bold">1.43</text>
<line x1="304.3" y1="238.2" x2="304.3" y2="239.7" stroke="#9aaab8" stroke-width="0.7"/>
<line x1="304.3" y1="162.4" x2="304.3" y2="163.6" stroke="#9aaab8" stroke-width="0.5"/>
<text x="304.3" y="245.3" font-size="4.4" fill="#000" text-anchor="middle" font-family="Liberation Sans" font-weight="bold">1.46</text>
<line x1="326.6" y1="238.2" x2="326.6" y2="239.7" stroke="#9aaab8" stroke-width="0.7"/>
<line x1="326.6" y1="162.4" x2="326.6" y2="163.6" stroke="#9aaab8" stroke-width="0.5"/>
<text x="326.6" y="245.3" font-size="4.4" fill="#000" text-anchor="middle" font-family="Liberation Sans" font-weight="bold">1.49</text>
<line x1="356.4" y1="238.2" x2="356.4" y2="239.7" stroke="#9aaab8" stroke-width="0.7"/>
<line x1="356.4" y1="162.4" x2="356.4" y2="163.6" stroke="#9aaab8" stroke-width="0.5"/>
<text x="356.4" y="245.3" font-size="4.4" fill="#000" text-anchor="middle" font-family="Liberation Sans" font-weight="bold">1.53</text>
<text x="282" y="251.4" font-size="4.8" fill="#000" text-anchor="middle" font-family="Liberation Sans" font-weight="bold">Ambient Refractive Index</text>
<text x="197.3" y="199.5" font-size="4.6" fill="#000" text-anchor="middle" font-family="Liberation Sans" font-weight="bold" transform="rotate(-90 197.3 199.5)">Δλ (nm)</text>
<rect x="304.3" y="197" width="51.3" height="41" fill="#afcff4"/>
<rect x="304.3" y="227.3" width="51.3" height="10.7" fill="#4a5a64"/>
<rect x="307.7" y="219.3" width="6.9" height="8" fill="#f4b01e"/>
<rect x="320" y="219.3" width="7" height="8" fill="#f4b01e"/>
<rect x="332.8" y="219.3" width="7" height="8" fill="#f4b01e"/>
<rect x="345.2" y="219.3" width="6.8" height="8" fill="#f4b01e"/>
<line x1="328.2" y1="198.5" x2="328.2" y2="207.5" stroke="#e02040" stroke-width="1.1"/>
<polygon points="328.2,210 326.9,206.8 329.5,206.8" fill="#e02040"/>
<line x1="331.5" y1="209.5" x2="331.5" y2="200.5" stroke="#e02040" stroke-width="1.1"/>
<polygon points="331.5,198 330.2,201.2 332.8,201.2" fill="#e02040"/>
<text x="326.3" y="201.5" font-size="3.9" fill="#333" text-anchor="end" font-family="Liberation Serif">Incident</text>
<text x="333.5" y="201.5" font-size="3.9" fill="#333" text-anchor="start" font-family="Liberation Serif">Reflected</text>
<text x="353.3" y="209.8" font-size="3.9" fill="#333" text-anchor="end" font-family="Liberation Serif">Ambient</text>
<text x="353.3" y="214.2" font-size="3.9" fill="#333" text-anchor="end" font-family="Liberation Serif">R.I. (n)</text>
<text x="349.5" y="225.8" font-size="3.9" fill="#222" text-anchor="middle" font-family="Liberation Serif" font-weight="bold">Au</text>
<text x="353.8" y="236.2" font-size="3.7" fill="#fff" text-anchor="end" font-family="Liberation Serif">SiO<tspan font-size="2.8" dy="0.8">2</tspan><tspan dy="-0.8"> Substrate</tspan></text>
<clipPath id="mcl"><rect x="207.6" y="162.4" width="148.8" height="75.8"/></clipPath><g clip-path="url(#mcl)">
<line x1="207.6" y1="238.7" x2="356.4" y2="172" stroke="#88dd44" stroke-width="1.3" stroke-dasharray="1.6 4.8" stroke-dashoffset="0"/>
<line x1="207.6" y1="237.7" x2="356.4" y2="171.1" stroke="#f2b055" stroke-width="1.3" stroke-dasharray="1.6 4.8" stroke-dashoffset="-1.6"/>
<line x1="207.6" y1="238.4" x2="356.4" y2="171.7" stroke="#55cfe0" stroke-width="1.3" stroke-dasharray="1.6 4.8" stroke-dashoffset="-3.2"/>
<line x1="207.6" y1="238" x2="356.4" y2="171.6" stroke="#e05080" stroke-width="1.3" stroke-dasharray="1.6 4.8" stroke-dashoffset="-4.8"/>
<line x1="207.6" y1="238.2" x2="356.4" y2="165.4" stroke="#333333" stroke-width="1" stroke-dasharray="2.6 1.6"/>
</g>
<rect x="229" y="226.4" width="1.8" height="1.8" fill="#222"/>
<rect x="251.3" y="215.5" width="1.8" height="1.8" fill="#222"/>
<rect x="303.4" y="190" width="1.8" height="1.8" fill="#222"/>
<rect x="325.7" y="179.1" width="1.8" height="1.8" fill="#222"/>
<rect x="355.5" y="164.5" width="1.8" height="1.8" fill="#222"/>
<rect x="229" y="227.3" width="1.8" height="1.8" fill="#8040a0"/>
<rect x="251.3" y="217.4" width="1.8" height="1.8" fill="#8040a0"/>
<rect x="303.4" y="194.1" width="1.8" height="1.8" fill="#8040a0"/>
<rect x="325.7" y="184.2" width="1.8" height="1.8" fill="#8040a0"/>
<rect x="355.5" y="170.9" width="1.8" height="1.8" fill="#8040a0"/>
<rect x="229" y="227.3" width="1.8" height="1.8" fill="#70c040"/>
<rect x="251.3" y="217.3" width="1.8" height="1.8" fill="#70c040"/>
<rect x="303.4" y="193.9" width="1.8" height="1.8" fill="#70c040"/>
<rect x="325.7" y="183.9" width="1.8" height="1.8" fill="#70c040"/>
<rect x="355.5" y="170.6" width="1.8" height="1.8" fill="#70c040"/>
<line x1="210.6" y1="166.7" x2="217" y2="166.7" stroke="#333333" stroke-width="0.9" stroke-dasharray="2 2.2"/>
<text x="218.7" y="168.6" font-size="5.3" fill="#111" text-anchor="start" font-family="Liberation Sans" font-weight="bold">W = 50 nm</text>
<line x1="210.6" y1="172.4" x2="217" y2="172.4" stroke="#88dd44" stroke-width="0.9" stroke-dasharray="2 2.2"/>
<text x="218.7" y="174.3" font-size="5.3" fill="#111" text-anchor="start" font-family="Liberation Sans" font-weight="bold">W = 75 nm</text>
<line x1="210.6" y1="178.1" x2="217" y2="178.1" stroke="#f2b055" stroke-width="0.9" stroke-dasharray="2 2.2"/>
<text x="218.7" y="180" font-size="5.3" fill="#111" text-anchor="start" font-family="Liberation Sans" font-weight="bold">W = 100 nm</text>
<line x1="210.6" y1="183.7" x2="217" y2="183.7" stroke="#55cfe0" stroke-width="0.9" stroke-dasharray="2 2.2"/>
<text x="218.7" y="185.6" font-size="5.3" fill="#111" text-anchor="start" font-family="Liberation Sans" font-weight="bold">W = 125 nm</text>
<line x1="210.6" y1="189.4" x2="217" y2="189.4" stroke="#e05080" stroke-width="0.9" stroke-dasharray="2 2.2"/>
<text x="218.7" y="191.3" font-size="5.3" fill="#111" text-anchor="start" font-family="Liberation Sans" font-weight="bold">W = 150 nm</text>
<rect x="384.9" y="164.5" width="149.6" height="75.8" fill="none" stroke="#c4d0da" stroke-width="0.7"/>
<line x1="384.9" y1="164.5" x2="384.9" y2="240.3" stroke="#9aaab8" stroke-width="0.8"/>
<line x1="384.9" y1="240.3" x2="534.5" y2="240.3" stroke="#9aaab8" stroke-width="0.8"/>
<line x1="383.4" y1="240.3" x2="384.9" y2="240.3" stroke="#9aaab8" stroke-width="0.7"/>
<text x="382.7" y="241.9" font-size="4.4" fill="#000" text-anchor="end" font-family="Liberation Sans" font-weight="bold">0.2</text>
<line x1="383.4" y1="221.4" x2="384.9" y2="221.4" stroke="#9aaab8" stroke-width="0.7"/>
<text x="382.7" y="223" font-size="4.4" fill="#000" text-anchor="end" font-family="Liberation Sans" font-weight="bold">0.4</text>
<line x1="383.4" y1="202.4" x2="384.9" y2="202.4" stroke="#9aaab8" stroke-width="0.7"/>
<text x="382.7" y="204" font-size="4.4" fill="#000" text-anchor="end" font-family="Liberation Sans" font-weight="bold">0.6</text>
<line x1="383.4" y1="183.4" x2="384.9" y2="183.4" stroke="#9aaab8" stroke-width="0.7"/>
<text x="382.7" y="185" font-size="4.4" fill="#000" text-anchor="end" font-family="Liberation Sans" font-weight="bold">0.8</text>
<line x1="383.4" y1="164.5" x2="384.9" y2="164.5" stroke="#9aaab8" stroke-width="0.7"/>
<text x="382.7" y="166.1" font-size="4.4" fill="#000" text-anchor="end" font-family="Liberation Sans" font-weight="bold">1.0</text>
<line x1="396" y1="240.3" x2="396" y2="241.8" stroke="#9aaab8" stroke-width="0.7"/>
<line x1="396" y1="164.5" x2="396" y2="165.7" stroke="#9aaab8" stroke-width="0.5"/>
<text x="396" y="246.8" font-size="4.4" fill="#000" text-anchor="middle" font-family="Liberation Sans" font-weight="bold">500</text>
<line x1="423.7" y1="240.3" x2="423.7" y2="241.8" stroke="#9aaab8" stroke-width="0.7"/>
<line x1="423.7" y1="164.5" x2="423.7" y2="165.7" stroke="#9aaab8" stroke-width="0.5"/>
<text x="423.7" y="246.8" font-size="4.4" fill="#000" text-anchor="middle" font-family="Liberation Sans" font-weight="bold">1000</text>
<line x1="451.4" y1="240.3" x2="451.4" y2="241.8" stroke="#9aaab8" stroke-width="0.7"/>
<line x1="451.4" y1="164.5" x2="451.4" y2="165.7" stroke="#9aaab8" stroke-width="0.5"/>
<text x="451.4" y="246.8" font-size="4.4" fill="#000" text-anchor="middle" font-family="Liberation Sans" font-weight="bold">1500</text>
<line x1="479.1" y1="240.3" x2="479.1" y2="241.8" stroke="#9aaab8" stroke-width="0.7"/>
<line x1="479.1" y1="164.5" x2="479.1" y2="165.7" stroke="#9aaab8" stroke-width="0.5"/>
<text x="479.1" y="246.8" font-size="4.4" fill="#000" text-anchor="middle" font-family="Liberation Sans" font-weight="bold">2000</text>
<line x1="506.8" y1="240.3" x2="506.8" y2="241.8" stroke="#9aaab8" stroke-width="0.7"/>
<line x1="506.8" y1="164.5" x2="506.8" y2="165.7" stroke="#9aaab8" stroke-width="0.5"/>
<text x="506.8" y="246.8" font-size="4.4" fill="#000" text-anchor="middle" font-family="Liberation Sans" font-weight="bold">2500</text>
<line x1="534.5" y1="240.3" x2="534.5" y2="241.8" stroke="#9aaab8" stroke-width="0.7"/>
<line x1="534.5" y1="164.5" x2="534.5" y2="165.7" stroke="#9aaab8" stroke-width="0.5"/>
<text x="534.5" y="246.8" font-size="4.4" fill="#000" text-anchor="middle" font-family="Liberation Sans" font-weight="bold">3000</text>
<text x="460.5" y="253.3" font-size="5" fill="#000" text-anchor="middle" font-family="Liberation Sans" font-weight="bold">Wavelength (nm)</text>
<text x="374.6" y="202.5" font-size="4.8" fill="#000" text-anchor="middle" font-family="Liberation Sans" font-weight="bold" transform="rotate(-90 374.6 202.5)">Reflectance</text>
<clipPath id="rcl"><rect x="384.9" y="164.5" width="149.6" height="75.8"/></clipPath><g clip-path="url(#rcl)">
<polyline points="385.1,237 385.9,236.9 387.1,236.7 388.3,236.4 389.3,236 390,235.3 390.5,234.4 390.9,233.5 391.4,233 391.9,233.2 392.4,233.9 393,234.4 393.5,234 394,232.6 394.4,230.6 394.9,227.7 395.6,224 396.5,218.7 397.6,212 398.7,205.4 399.8,200 400.8,196.3 401.8,193.6 402.9,191.5 404,189.5 405.2,187.7 406.4,186.3 407.7,185.1 409,184 410.4,182.9 412,181.9 413.4,181.2 414.6,181 415.3,181.5 415.8,182.5 416.1,183.6 416.5,184.5 417,185.1 417.5,185.6 418,185.8 418.5,185.5 419.1,184.5 419.6,183 420.3,181.3 421,180 421.8,178.9 422.8,177.9 423.8,177.3 425,177.5 426.5,178.9 428.1,181.2 429.8,183.6 431.4,185.3 432.9,185.8 434.3,185.6 435.6,185.5 436.7,186.3 437.4,187.9 437.9,190.1 438.3,193.2 438.8,197.9 439.6,205.5 440.4,215.4 441.3,225 442,231.6 442.6,234.5 443.1,235.1 443.5,234.1 444,232.6 444.5,230.2 445,226.5 445.6,222.5 446.2,219 446.9,215.7 447.7,212.3 448.5,209.6 449.3,208.4 450.1,209.1 450.8,211.1 451.6,214 452.5,216.8 453.5,219.9 454.5,223.5 455.6,226.9 456.7,229.5 457.8,231.1 458.8,232.2 459.8,232.6 460.9,232.6 461.9,232.2 463,231.2 464.1,229.7 465.1,227.4 466.2,223.8 467.3,219.2 468.3,214.4 469.3,210.5 470.1,207.9 470.9,205.9 471.7,204.1 472.5,202.1 473.5,199.6 474.6,196.8 475.7,194.1 476.7,191.6 477.4,189.4 477.9,187.5 478.6,185.7 479.5,184 480.8,182.4 482.5,180.9 484.3,179.6 486.2,178.4 488.2,177.4 490.4,176.6 492.7,175.8 495.1,175 497.8,174 500.7,172.9 503.5,171.8 506.2,171 508.5,170.5 510.6,170.2 512.8,170.1 515.1,169.9 517.8,169.8 520.7,169.7 523.7,169.6 526.3,169.5 528.8,169.3 531.1,169.1 533.1,168.9 534.5,168.8" fill="none" stroke="#a8e070" stroke-width="1.1" stroke-linejoin="round" stroke-dasharray="2.6 2"/>
<polyline points="385.1,236.8 385.4,236.8 385.9,236.7 386.5,236.6 387,236.5 387.6,236.4 388.1,236.3 388.7,236.2 389.3,235.8 389.8,235.1 390.4,234.1 390.9,233.2 391.4,232.6 391.9,232.8 392.4,233.6 393,234.1 393.5,233.7 394,232 394.5,229.6 395,226.5 395.6,223.2 396.3,219.2 397.2,214.6 398.1,210.1 398.8,206.3 399.4,203.5 399.9,201.3 400.3,199.5 400.9,197.9 401.6,196.6 402.4,195.7 403.2,194.8 404,193.7 404.8,192.2 405.7,190.6 406.5,189 407.2,187.4 407.8,185.9 408.3,184.3 408.8,183 409.3,182.1 409.8,181.8 410.3,182 410.8,182.4 411.4,182.7 412.2,182.7 413,182.7 413.9,182.8 414.6,183.2 415.1,183.9 415.6,184.8 415.9,186 416.3,187.4 416.7,189.6 417,192.4 417.3,194.8 417.7,195.8 418.2,194.9 418.7,192.7 419.3,189.9 419.8,187.4 420.3,185.2 420.8,182.8 421.3,180.6 421.9,178.9 422.6,177.6 423.4,176.7 424.3,176.1 425.1,175.8 425.9,175.9 426.7,176.3 427.5,177 428.3,177.9 429.1,178.8 429.9,179.8 430.6,181.1 431.4,183.2 432.2,186.1 433.1,189.7 433.9,193.7 434.6,197.9 435.2,202.4 435.7,207.2 436.2,212.1 436.7,216.8 437.2,221.5 437.6,226.4 438,230.6 438.4,233.7 438.7,235.5 439,236.4 439.2,236.2 439.6,234.7 440.1,231.5 440.7,226.7 441.3,221.4 441.9,216.8 442.6,212.6 443.3,208.3 444,204.9 444.7,203.2 445.3,203.8 445.9,206 446.5,209.2 447.2,212.6 448,216.6 448.8,221.4 449.6,226.1 450.4,229.5 451.2,231.5 451.9,232.7 452.7,233 453.5,232.6 454.3,231.3 455.1,229 455.9,226.2 456.7,223.2 457.5,219.7 458.2,215.7 459,211.7 459.8,208.4 460.8,205.8 461.8,203.7 462.9,202 463.9,200.9 464.8,200.6 465.6,201 466.5,201.6 467.3,201.8 468.1,201.6 468.9,201.2 469.7,200.5 470.6,199.6 471.6,198.2 472.7,196.5 473.9,194.7 475,192.9 476.1,191.2 477.1,189.5 478.2,187.8 479.5,186.2 481,184.5 482.6,182.8 484.3,181.3 486.2,180 488.3,179.1 490.5,178.4 492.8,177.8 495.1,177.3 497.2,176.8 499.3,176.4 501.5,176 504,175.7 506.9,175.4 510.2,175.2 513.7,174.9 517.4,174.6 521.8,174.2 526.8,173.6 531.3,173.1 534.5,172.8" fill="none" stroke="#7fd34a" stroke-width="1.1" stroke-linejoin="round"/>
</g>
<line x1="386.8" y1="167.3" x2="392.2" y2="167.3" stroke="#7fd34a" stroke-width="1.1"/>
<line x1="386.8" y1="172.7" x2="392.2" y2="172.7" stroke="#a8e070" stroke-width="1.1" stroke-dasharray="2 1.6"/>
<text x="394.5" y="169.1" font-size="5" fill="#111" text-anchor="start" font-family="Liberation Sans" font-weight="bold">t = 0</text>
<text x="394.5" y="174.5" font-size="5" fill="#111" text-anchor="start" font-family="Liberation Sans" font-weight="bold">t = 2 nm</text>
<rect x="479.1" y="196.7" width="55.2" height="43.2" fill="#afcff4"/>
<rect x="479.1" y="228.6" width="55.2" height="11.3" fill="#4a5a64"/>
<rect x="482.2" y="219.6" width="8.4" height="9.5" rx="1.2" fill="#f4b01e" stroke="#b0203a" stroke-width="1"/>
<rect x="495.5" y="219.6" width="9" height="9.5" rx="1.2" fill="#f4b01e" stroke="#b0203a" stroke-width="1"/>
<rect x="509.1" y="219.6" width="8.3" height="9.5" rx="1.2" fill="#f4b01e" stroke="#b0203a" stroke-width="1"/>
<rect x="522.3" y="219.6" width="9.6" height="9.5" rx="1.2" fill="#f4b01e" stroke="#b0203a" stroke-width="1"/>
<line x1="505.1" y1="198.8" x2="505.1" y2="207.5" stroke="#e02040" stroke-width="1.1"/>
<polygon points="505.1,210 503.8,206.8 506.4,206.8" fill="#e02040"/>
<line x1="508.5" y1="209.5" x2="508.5" y2="201" stroke="#e02040" stroke-width="1.1"/>
<polygon points="508.5,198.5 507.2,201.7 509.8,201.7" fill="#e02040"/>
<text x="502.5" y="201" font-size="3.9" fill="#333" text-anchor="end" font-family="Liberation Serif">Incident</text>
<text x="510.7" y="201" font-size="3.9" fill="#333" text-anchor="start" font-family="Liberation Serif">Reflected</text>
<text x="481" y="210.5" font-size="3.9" fill="#333" text-anchor="start" font-family="Liberation Serif">Analyte</text>
<text x="481" y="214.9" font-size="3.9" fill="#333" text-anchor="start" font-family="Liberation Serif">Layer, t</text>
<line x1="484" y1="216.5" x2="488" y2="216.5" stroke="#333" stroke-width="0.4"/>
<text x="533" y="210.5" font-size="3.9" fill="#333" text-anchor="end" font-family="Liberation Serif">Ambient R.I.</text>
<text x="531.5" y="214.9" font-size="3.9" fill="#333" text-anchor="end" font-family="Liberation Serif">(n = 1.33)</text>
<text x="527" y="226" font-size="3.9" fill="#222" text-anchor="middle" font-family="Liberation Serif" font-weight="bold">Au</text>
<text x="532.5" y="238.2" font-size="3.7" fill="#fff" text-anchor="end" font-family="Liberation Serif">SiO<tspan font-size="2.8" dy="0.8">2</tspan><tspan dy="-0.8"> Substrate</tspan></text>
<text x="13" y="276" font-size="10" fill="#111" text-anchor="start" font-family="Liberation Serif" font-weight="bold">(c)</text>
<line x1="43.2" y1="277.5" x2="43.2" y2="379.2" stroke="#d0d0d0" stroke-width="0.7"/>
<line x1="43.2" y1="379.2" x2="201" y2="379.2" stroke="#d0d0d0" stroke-width="0.7"/>
<text x="40.3" y="380.7" font-size="4.3" fill="#222" text-anchor="end" font-family="Liberation Sans" font-weight="bold">0</text>
<text x="40.3" y="369.9" font-size="4.3" fill="#222" text-anchor="end" font-family="Liberation Sans" font-weight="bold">0.1</text>
<text x="40.3" y="359" font-size="4.3" fill="#222" text-anchor="end" font-family="Liberation Sans" font-weight="bold">0.2</text>
<text x="40.3" y="348.2" font-size="4.3" fill="#222" text-anchor="end" font-family="Liberation Sans" font-weight="bold">0.3</text>
<text x="40.3" y="337.4" font-size="4.3" fill="#222" text-anchor="end" font-family="Liberation Sans" font-weight="bold">0.4</text>
<text x="40.3" y="326.6" font-size="4.3" fill="#222" text-anchor="end" font-family="Liberation Sans" font-weight="bold">0.5</text>
<text x="40.3" y="315.7" font-size="4.3" fill="#222" text-anchor="end" font-family="Liberation Sans" font-weight="bold">0.6</text>
<text x="40.3" y="304.9" font-size="4.3" fill="#222" text-anchor="end" font-family="Liberation Sans" font-weight="bold">0.7</text>
<text x="40.3" y="294.1" font-size="4.3" fill="#222" text-anchor="end" font-family="Liberation Sans" font-weight="bold">0.8</text>
<text x="40.3" y="283.2" font-size="4.3" fill="#222" text-anchor="end" font-family="Liberation Sans" font-weight="bold">0.9</text>
<text x="43.2" y="388.2" font-size="4.3" fill="#222" text-anchor="middle" font-family="Liberation Sans" font-weight="bold">550</text>
<text x="64.5" y="388.2" font-size="4.3" fill="#222" text-anchor="middle" font-family="Liberation Sans" font-weight="bold">570</text>
<text x="85.8" y="388.2" font-size="4.3" fill="#222" text-anchor="middle" font-family="Liberation Sans" font-weight="bold">590</text>
<text x="107.1" y="388.2" font-size="4.3" fill="#222" text-anchor="middle" font-family="Liberation Sans" font-weight="bold">610</text>
<text x="128.4" y="388.2" font-size="4.3" fill="#222" text-anchor="middle" font-family="Liberation Sans" font-weight="bold">630</text>
<text x="149.7" y="388.2" font-size="4.3" fill="#222" text-anchor="middle" font-family="Liberation Sans" font-weight="bold">650</text>
<text x="171" y="388.2" font-size="4.3" fill="#222" text-anchor="middle" font-family="Liberation Sans" font-weight="bold">670</text>
<text x="192.3" y="388.2" font-size="4.3" fill="#222" text-anchor="middle" font-family="Liberation Sans" font-weight="bold">690</text>
<text x="122.7" y="396.8" font-size="4.8" fill="#222" text-anchor="middle" font-family="Liberation Sans" font-weight="bold">Wavelength (nm)</text>
<text x="30" y="322.8" font-size="4.1" fill="#222" text-anchor="middle" font-family="Liberation Sans" font-weight="bold" transform="rotate(-90 30 322.8)">Absorbance (a.u.)</text>
<polyline points="43.3,315.8 45.1,317.3 47.6,319.5 50.6,321.9 53.6,324 56.8,325.9 60.2,327.8 63.7,329.4 67.2,330.7 70.6,331.6 74,332.1 77.4,332.3 80.8,332.1 84.3,331.5 87.8,330.5 91.2,329.2 94.4,328 97.3,327 100,326 102.6,324.7 105.3,322.6 108.1,319.4 111,315.4 113.7,311.3 116.1,307.6 117.9,304.6 119.4,301.8 120.7,299.3 122,297 123.3,295 124.6,293.2 125.8,291.6 127,290 128.2,288.2 129.3,286.5 130.4,284.8 131.5,283.5 132.6,282.5 133.8,281.7 134.9,281.2 135.9,281 136.9,281.1 137.8,281.6 138.6,282.4 139.5,283.5 140.3,284.9 141,286.5 141.8,288.6 142.7,291.3 143.9,294.9 145.3,299.1 146.7,303.6 148.1,307.7 149.3,311.3 150.5,314.7 151.8,318 153.6,321.3 155.9,324.8 158.7,328.3 161.6,331.8 164.5,335 167.2,337.9 169.9,340.6 172.7,343.2 175.4,345.8 178.2,348.5 181,351.1 183.8,353.8 186.3,356.7 188.6,360 190.8,363.6 192.8,367.2 194.5,370.4 195.9,373.3 197.1,376 198,378.3 198.6,379.9" fill="none" stroke="#c8c8c8" stroke-width="0.8" stroke-linejoin="round"/>
<polyline points="43.3,329.4 45.1,330.5 47.6,332.1 50.6,333.8 53.6,335.4 56.8,336.8 60.2,338.1 63.7,339.3 67.2,340.3 70.6,341.1 74,341.7 77.4,342.1 80.8,342.2 84.3,342.2 87.8,342.1 91.2,341.5 94.4,340.3 97.4,338.3 100.2,335.6 102.8,332.5 105.3,329.4 107.5,326.1 109.5,322.6 111.4,319.1 113.4,315.8 115.5,312.7 117.8,309.7 119.9,307 121.6,304.9 122.9,303.7 123.9,303 124.7,302.8 125.5,302.5 126.3,302.2 127,302 127.7,302 128.5,302.2 129.3,302.6 130.1,303.2 131,304 132,305 133.1,305.9 134.3,306.9 135.6,308.3 137.2,310.4 139,313.5 141.1,317.3 143.3,321.4 145.4,325.4 147.4,329.2 149.3,333.1 151.4,336.8 153.6,340.4 156.1,343.9 158.9,347.2 161.7,350.3 164.5,352.7 167.3,354.2 170.1,355 172.9,355.6 175.4,356.7 177.6,358.4 179.7,360.4 181.6,362.6 183.6,364.9 185.7,367.6 187.9,370.6 189.9,373.5 191.7,375.8 193.3,377.4 194.7,378.5 195.8,379.3 196.6,379.9" fill="none" stroke="#8a8a8a" stroke-width="0.8" stroke-linejoin="round"/>
<polyline points="43.3,337.5 45.1,339.1 47.6,341.3 50.6,343.7 53.6,345.7 56.8,347.3 60.2,348.7 63.7,349.9 67.2,350.6 70.6,350.9 74,350.9 77.4,350.6 80.8,349.8 84.3,348.6 87.8,347 91.2,345.1 94.4,343 97.4,340.6 100.2,338 102.8,335.1 105.3,332.1 107.6,328.7 109.7,325.1 111.7,321.5 113.4,318.5 114.8,316.1 116,314.1 117.1,312.5 118,311 118.8,309.7 119.5,308.5 120.2,307.7 120.9,307.2 121.6,307.1 122.3,307.3 123.1,307.8 124,308.5 125.1,309.2 126.2,310 127.6,311.2 129.1,313.1 130.9,315.9 133,319.4 135.1,323.2 137.2,326.8 139.2,330.3 141.3,333.9 143.3,337.3 145.4,340.4 147.4,343.2 149.3,345.7 151.4,347.9 153.6,349.9 156.1,351.6 158.9,353 161.7,354.2 164.5,355.4 167.4,356.4 170.3,357.3 173.1,358.2 175.4,359.5 177.1,361.1 178.4,363 179.6,365.2 180.8,367.6 182.3,370.7 183.9,374.3 185.3,377.6 186.3,379.9" fill="none" stroke="#9a9a9a" stroke-width="0.8" stroke-linejoin="round"/>
<polyline points="43.3,348.4 45.1,348.6 47.6,349 50.6,349.4 53.6,349.8 56.8,350.4 60.2,351 63.7,351.6 67.2,351.7 70.6,351.4 74,350.7 77.4,349.7 80.8,348.4 84.4,346.6 88.1,344.3 91.6,342.1 94.4,340.3 96.4,339.1 97.8,338.2 98.9,337.5 100,337 101.1,336.6 102.1,336.4 103,336.3 104,336.3 105,336.3 106,336.5 107,336.8 108,337.3 109,338.2 110,339.3 111,340.6 112,342 113,343.5 114.1,345.1 115.1,346.8 116.1,348.4 117.1,349.9 118,351.3 119,352.6 120,354 121,355.4 122.1,356.8 123.1,358.1 124.3,359.3 125.5,360.2 126.8,360.9 128.2,361.6 129.7,362.5 131.3,363.6 132.9,364.8 134.8,366.2 137.2,367.6 140.2,369.3 143.7,371.2 147.3,373 150.9,374.5 154.3,375.6 157.7,376.4 161.1,376.9 164.5,377.2 167.9,377.2 171.3,376.9 174.7,376.4 178.1,375.8 181.6,375.1 185.2,374.2 188.7,373.3 191.7,372.5 194.3,371.8 196.6,371.2 198.6,370.7 199.9,370.4" fill="none" stroke="#505050" stroke-width="0.8" stroke-linejoin="round"/>
<polyline points="43.3,320.7 45.1,322.1 47.6,324 50.6,326.1 53.6,328 56.8,329.6 60.2,331.2 63.7,332.5 67.2,333.5 70.6,334.1 74,334.4 77.4,334.4 80.8,334.3 84.3,334.1 87.8,333.8 91.2,333.1 94.4,332.1 97.4,330.6 100.2,328.8 102.8,326.6 105.3,324 107.5,320.9 109.5,317.4 111.4,313.8 113.4,310.3 115.5,306.9 117.7,303.6 119.8,300.5 121.6,298.1 123,296.5 124.1,295.6 125,295 126,294.5 127,294 127.9,293.6 128.7,293.5 129.6,293.5 130.4,293.7 131.3,294.2 132.1,294.8 133,295.5 133.9,296.1 134.8,296.8 135.8,297.8 137.2,299.5 139,302.3 141,305.8 143.3,309.6 145.4,313.1 147.4,316.4 149.3,319.6 151.4,322.6 153.6,325.4 156.2,327.8 159,329.8 161.9,331.7 164.5,333.6 166.7,335.3 168.8,336.9 170.7,338.5 172.7,340.4 174.7,342.6 176.7,345 178.8,347.5 180.8,349.9 182.8,352.3 184.9,354.8 186.9,357.2 189,359.5 191.2,361.8 193.4,364 195.5,366 197.2,367.6 198.5,368.6 199.6,369.2 200.4,369.5 201,369.8" fill="none" stroke="#444" stroke-width="1" stroke-linejoin="round"/>
<line x1="153.6" y1="310.4" x2="201.3" y2="299.8" stroke="#999" stroke-width="0.7"/>
<line x1="153.6" y1="324" x2="201.3" y2="312.6" stroke="#999" stroke-width="0.7"/>
<line x1="145.4" y1="336.3" x2="201.3" y2="323" stroke="#999" stroke-width="0.7"/>
<line x1="150.9" y1="346.4" x2="201.3" y2="334" stroke="#999" stroke-width="0.7"/>
<line x1="131.8" y1="362.2" x2="201.3" y2="345.9" stroke="#999" stroke-width="0.7"/>
<text x="203.2" y="302" font-size="4.7" fill="#000" text-anchor="start" font-family="Liberation Sans">FC target</text>
<text x="203.2" y="314.7" font-size="4.7" fill="#000" text-anchor="start" font-family="Liberation Sans">MM</text>
<text x="203.2" y="325" font-size="4.7" fill="#000" text-anchor="start" font-family="Liberation Sans">NC</text>
<text x="203.2" y="336.1" font-size="4.7" fill="#000" text-anchor="start" font-family="Liberation Sans">Probe</text>
<text x="203.2" y="348" font-size="4.7" fill="#000" text-anchor="start" font-family="Liberation Sans">Au-coated 2D-PC</text>
<line x1="260.3" y1="276" x2="260.3" y2="379.4" stroke="#e6e6e6" stroke-width="0.6"/>
<line x1="260.3" y1="379.4" x2="386.3" y2="379.4" stroke="#e6e6e6" stroke-width="0.6"/>
<text x="258.1" y="379.7" font-size="4.3" fill="#333" text-anchor="end" font-family="Liberation Sans" font-weight="bold">0.5</text>
<text x="258.1" y="369.2" font-size="4.3" fill="#333" text-anchor="end" font-family="Liberation Sans" font-weight="bold">0.55</text>
<text x="258.1" y="358.7" font-size="4.3" fill="#333" text-anchor="end" font-family="Liberation Sans" font-weight="bold">0.6</text>
<text x="258.1" y="348.1" font-size="4.3" fill="#333" text-anchor="end" font-family="Liberation Sans" font-weight="bold">0.65</text>
<text x="258.1" y="337.6" font-size="4.3" fill="#333" text-anchor="end" font-family="Liberation Sans" font-weight="bold">0.7</text>
<text x="258.1" y="327.1" font-size="4.3" fill="#333" text-anchor="end" font-family="Liberation Sans" font-weight="bold">0.75</text>
<text x="258.1" y="316.6" font-size="4.3" fill="#333" text-anchor="end" font-family="Liberation Sans" font-weight="bold">0.8</text>
<text x="258.1" y="306.1" font-size="4.3" fill="#333" text-anchor="end" font-family="Liberation Sans" font-weight="bold">0.85</text>
<text x="258.1" y="295.5" font-size="4.3" fill="#333" text-anchor="end" font-family="Liberation Sans" font-weight="bold">0.9</text>
<text x="258.1" y="285" font-size="4.3" fill="#333" text-anchor="end" font-family="Liberation Sans" font-weight="bold">0.95</text>
<text x="260.8" y="387.1" font-size="4.3" fill="#333" text-anchor="middle" font-family="Liberation Sans" font-weight="bold">625</text>
<text x="278.2" y="387.1" font-size="4.3" fill="#333" text-anchor="middle" font-family="Liberation Sans" font-weight="bold">627</text>
<text x="295.5" y="387.1" font-size="4.3" fill="#333" text-anchor="middle" font-family="Liberation Sans" font-weight="bold">629</text>
<text x="312.9" y="387.1" font-size="4.3" fill="#333" text-anchor="middle" font-family="Liberation Sans" font-weight="bold">631</text>
<text x="330.2" y="387.1" font-size="4.3" fill="#333" text-anchor="middle" font-family="Liberation Sans" font-weight="bold">633</text>
<text x="347.6" y="387.1" font-size="4.3" fill="#333" text-anchor="middle" font-family="Liberation Sans" font-weight="bold">635</text>
<text x="364.9" y="387.1" font-size="4.3" fill="#333" text-anchor="middle" font-family="Liberation Sans" font-weight="bold">637</text>
<text x="382.2" y="387.1" font-size="4.3" fill="#333" text-anchor="middle" font-family="Liberation Sans" font-weight="bold">639</text>
<text x="326" y="396" font-size="4.7" fill="#333" text-anchor="middle" font-family="Liberation Sans" font-weight="bold">Wavelength (nm)</text>
<text x="245" y="322.8" font-size="4.4" fill="#222" text-anchor="middle" font-family="Liberation Sans" font-weight="bold" transform="rotate(-90 245 322.8)">Absorbance (a.u.)</text>
<line x1="337.1" y1="284.9" x2="361.7" y2="284.9" stroke="#a8a8a8" stroke-width="1.1"/>
<line x1="349.4" y1="272.5" x2="349.4" y2="295.4" stroke="#a8a8a8" stroke-width="1.1"/>
<circle cx="349.4" cy="284.9" r="1.4" fill="#a8a8a8"/>
<line x1="311.4" y1="323.2" x2="343.1" y2="323.2" stroke="#606060" stroke-width="1.8"/>
<line x1="326.7" y1="316.9" x2="326.7" y2="328.6" stroke="#606060" stroke-width="1.8"/>
<circle cx="326.7" cy="323.2" r="1.4" fill="#606060"/>
<line x1="296.7" y1="348.5" x2="328.6" y2="348.5" stroke="#7a7a7a" stroke-width="1.6"/>
<line x1="312.3" y1="332.7" x2="312.3" y2="364.9" stroke="#7a7a7a" stroke-width="1.6"/>
<circle cx="312.3" cy="348.5" r="1.4" fill="#7a7a7a"/>
<line x1="270.2" y1="359.8" x2="307.6" y2="359.8" stroke="#b0b0b0" stroke-width="1.8"/>
<line x1="288.5" y1="350.5" x2="288.5" y2="368.7" stroke="#b0b0b0" stroke-width="1.8"/>
<circle cx="288.5" cy="359.8" r="1.4" fill="#b0b0b0"/>
<text x="360" y="292.4" font-size="4.6" fill="#888" text-anchor="start" font-family="Liberation Sans">FC target</text>
<text x="334.3" y="329.8" font-size="4.6" fill="#888" text-anchor="start" font-family="Liberation Sans">MM</text>
<text x="320.4" y="357.6" font-size="4.6" fill="#888" text-anchor="start" font-family="Liberation Sans">NC</text>
<text x="292.4" y="368" font-size="4.6" fill="#888" text-anchor="start" font-family="Liberation Sans">Probe</text>
<line x1="278.5" y1="272" x2="278.5" y2="302.1" stroke="#dcdcdc" stroke-width="0.6"/>
<line x1="278.5" y1="302.1" x2="320" y2="302.1" stroke="#dcdcdc" stroke-width="0.6"/>
<text x="273.4" y="275.7" font-size="5" fill="#777" text-anchor="end" font-family="Liberation Sans">0.5</text>
<text x="273.4" y="289.7" font-size="5" fill="#777" text-anchor="end" font-family="Liberation Sans">0.45</text>
<text x="273.4" y="303.8" font-size="5" fill="#777" text-anchor="end" font-family="Liberation Sans">0.4</text>
<text x="277.8" y="311.2" font-size="5" fill="#777" text-anchor="middle" font-family="Liberation Sans">605</text>
<text x="293.1" y="311.2" font-size="5" fill="#777" text-anchor="middle" font-family="Liberation Sans">607</text>
<text x="308.4" y="311.2" font-size="5" fill="#777" text-anchor="middle" font-family="Liberation Sans">609</text>
<line x1="280" y1="289" x2="290.2" y2="289" stroke="#333" stroke-width="1"/>
<line x1="285.4" y1="286.8" x2="285.4" y2="291.9" stroke="#333" stroke-width="1"/>
<circle cx="285.4" cy="289" r="1.4" fill="#333"/>
<text x="288" y="294.2" font-size="4.5" fill="#999" text-anchor="start" font-family="Liberation Sans">Au-coated</text>
<text x="288" y="300.3" font-size="4.5" fill="#999" text-anchor="start" font-family="Liberation Sans">2D-PC</text>
<defs><linearGradient id="pil" x1="0" y1="0" x2="0" y2="1"><stop offset="0" stop-color="#a9a9a9"/><stop offset="0.45" stop-color="#8e8e8e"/><stop offset="1" stop-color="#5a5a5a"/></linearGradient><radialGradient id="pilc" cx="0.45" cy="0.3" r="0.6"><stop offset="0" stop-color="#b4b4b4"/><stop offset="1" stop-color="#8a8a8a"/></radialGradient></defs>
<clipPath id="semc"><rect x="401" y="283" width="133.8" height="92.2"/></clipPath><g clip-path="url(#semc)">
<rect x="401" y="283" width="133.8" height="92.2" fill="#4b4b4b"/>
<path d="M410.8,284.6 v-7.1 a3.9,4.1 0 0 1 7.8,0 v7.1 z" fill="url(#pil)"/>
<path d="M533.7,284.7 v-7.1 a3.9,4.1 0 0 1 7.8,0 v7.1 z" fill="url(#pil)"/>
<path d="M488.7,285.5 v-7.1 a3.9,4.1 0 0 1 7.8,0 v7.1 z" fill="url(#pil)"/>
<path d="M443.7,286.3 v-7.1 a3.9,4.1 0 0 1 7.8,0 v7.1 z" fill="url(#pil)"/>
<path d="M398.7,287.1 v-7.1 a3.9,4.1 0 0 1 7.8,0 v7.1 z" fill="url(#pil)"/>
<path d="M521.6,287.2 v-7.1 a3.9,4.1 0 0 1 7.8,0 v7.1 z" fill="url(#pil)"/>
<path d="M476.6,288 v-7.1 a3.9,4.1 0 0 1 7.8,0 v7.1 z" fill="url(#pil)"/>
<path d="M431.6,288.8 v-7.1 a3.9,4.1 0 0 1 7.8,0 v7.1 z" fill="url(#pil)"/>
<path d="M509.5,289.7 v-7.1 a3.9,4.1 0 0 1 7.8,0 v7.1 z" fill="url(#pil)"/>
<path d="M464.5,290.5 v-7.1 a3.9,4.1 0 0 1 7.8,0 v7.1 z" fill="url(#pil)"/>
<path d="M419.5,291.3 v-7.1 a3.9,4.1 0 0 1 7.8,0 v7.1 z" fill="url(#pil)"/>
<path d="M497.4,292.2 v-7.1 a3.9,4.1 0 0 1 7.8,0 v7.1 z" fill="url(#pil)"/>
<path d="M452.4,293 v-7.1 a3.9,4.1 0 0 1 7.8,0 v7.1 z" fill="url(#pil)"/>
<path d="M407.4,293.8 v-7.1 a3.9,4.1 0 0 1 7.8,0 v7.1 z" fill="url(#pil)"/>
<path d="M530.3,293.9 v-7.1 a3.9,4.1 0 0 1 7.8,0 v7.1 z" fill="url(#pil)"/>
<path d="M485.3,294.7 v-7.1 a3.9,4.1 0 0 1 7.8,0 v7.1 z" fill="url(#pil)"/>
<path d="M440.3,295.5 v-7.1 a3.9,4.1 0 0 1 7.8,0 v7.1 z" fill="url(#pil)"/>
<path d="M395.3,296.3 v-7.1 a3.9,4.1 0 0 1 7.8,0 v7.1 z" fill="url(#pil)"/>
<path d="M518.2,296.4 v-7.1 a3.9,4.1 0 0 1 7.8,0 v7.1 z" fill="url(#pil)"/>
<path d="M473.2,297.2 v-7.1 a3.9,4.1 0 0 1 7.8,0 v7.1 z" fill="url(#pil)"/>
<path d="M428.2,298 v-7.1 a3.9,4.1 0 0 1 7.8,0 v7.1 z" fill="url(#pil)"/>
<path d="M506.1,298.9 v-7.1 a3.9,4.1 0 0 1 7.8,0 v7.1 z" fill="url(#pil)"/>
<path d="M461.1,299.7 v-7.1 a3.9,4.1 0 0 1 7.8,0 v7.1 z" fill="url(#pil)"/>
<path d="M416.1,300.5 v-7.1 a3.9,4.1 0 0 1 7.8,0 v7.1 z" fill="url(#pil)"/>
<path d="M494,301.4 v-7.1 a3.9,4.1 0 0 1 7.8,0 v7.1 z" fill="url(#pil)"/>
<path d="M449,302.2 v-7.1 a3.9,4.1 0 0 1 7.8,0 v7.1 z" fill="url(#pil)"/>
<path d="M404,303 v-7.1 a3.9,4.1 0 0 1 7.8,0 v7.1 z" fill="url(#pil)"/>
<path d="M526.9,303.1 v-7.1 a3.9,4.1 0 0 1 7.8,0 v7.1 z" fill="url(#pil)"/>
<path d="M481.9,303.9 v-7.1 a3.9,4.1 0 0 1 7.8,0 v7.1 z" fill="url(#pil)"/>
<path d="M436.9,304.7 v-7.1 a3.9,4.1 0 0 1 7.8,0 v7.1 z" fill="url(#pil)"/>
<path d="M391.9,305.5 v-7.1 a3.9,4.1 0 0 1 7.8,0 v7.1 z" fill="url(#pil)"/>
<path d="M514.8,305.6 v-7.1 a3.9,4.1 0 0 1 7.8,0 v7.1 z" fill="url(#pil)"/>
<path d="M469.8,306.4 v-7.1 a3.9,4.1 0 0 1 7.8,0 v7.1 z" fill="url(#pil)"/>
<path d="M424.8,307.2 v-7.1 a3.9,4.1 0 0 1 7.8,0 v7.1 z" fill="url(#pil)"/>
<path d="M502.7,308.1 v-7.1 a3.9,4.1 0 0 1 7.8,0 v7.1 z" fill="url(#pil)"/>
<path d="M457.7,308.9 v-7.1 a3.9,4.1 0 0 1 7.8,0 v7.1 z" fill="url(#pil)"/>
<path d="M412.7,309.7 v-7.1 a3.9,4.1 0 0 1 7.8,0 v7.1 z" fill="url(#pil)"/>
<path d="M535.6,309.8 v-7.1 a3.9,4.1 0 0 1 7.8,0 v7.1 z" fill="url(#pil)"/>
<path d="M490.6,310.6 v-7.1 a3.9,4.1 0 0 1 7.8,0 v7.1 z" fill="url(#pil)"/>
<path d="M445.6,311.4 v-7.1 a3.9,4.1 0 0 1 7.8,0 v7.1 z" fill="url(#pil)"/>
<path d="M400.6,312.2 v-7.1 a3.9,4.1 0 0 1 7.8,0 v7.1 z" fill="url(#pil)"/>
<path d="M523.5,312.3 v-7.1 a3.9,4.1 0 0 1 7.8,0 v7.1 z" fill="url(#pil)"/>
<path d="M478.5,313.1 v-7.1 a3.9,4.1 0 0 1 7.8,0 v7.1 z" fill="url(#pil)"/>
<path d="M433.5,313.9 v-7.1 a3.9,4.1 0 0 1 7.8,0 v7.1 z" fill="url(#pil)"/>
<path d="M511.4,314.8 v-7.1 a3.9,4.1 0 0 1 7.8,0 v7.1 z" fill="url(#pil)"/>
<path d="M466.4,315.6 v-7.1 a3.9,4.1 0 0 1 7.8,0 v7.1 z" fill="url(#pil)"/>
<path d="M421.4,316.4 v-7.1 a3.9,4.1 0 0 1 7.8,0 v7.1 z" fill="url(#pil)"/>
<path d="M499.3,317.3 v-7.1 a3.9,4.1 0 0 1 7.8,0 v7.1 z" fill="url(#pil)"/>
<path d="M454.3,318.1 v-7.1 a3.9,4.1 0 0 1 7.8,0 v7.1 z" fill="url(#pil)"/>
<path d="M409.3,318.9 v-7.1 a3.9,4.1 0 0 1 7.8,0 v7.1 z" fill="url(#pil)"/>
<path d="M532.2,319 v-7.1 a3.9,4.1 0 0 1 7.8,0 v7.1 z" fill="url(#pil)"/>
<path d="M487.2,319.8 v-7.1 a3.9,4.1 0 0 1 7.8,0 v7.1 z" fill="url(#pil)"/>
<path d="M442.2,320.6 v-7.1 a3.9,4.1 0 0 1 7.8,0 v7.1 z" fill="url(#pil)"/>
<path d="M397.2,321.4 v-7.1 a3.9,4.1 0 0 1 7.8,0 v7.1 z" fill="url(#pil)"/>
<path d="M520.1,321.5 v-7.1 a3.9,4.1 0 0 1 7.8,0 v7.1 z" fill="url(#pil)"/>
<path d="M475.1,322.3 v-7.1 a3.9,4.1 0 0 1 7.8,0 v7.1 z" fill="url(#pil)"/>
<path d="M430.1,323.1 v-7.1 a3.9,4.1 0 0 1 7.8,0 v7.1 z" fill="url(#pil)"/>
<path d="M508,324 v-7.1 a3.9,4.1 0 0 1 7.8,0 v7.1 z" fill="url(#pil)"/>
<path d="M463,324.8 v-7.1 a3.9,4.1 0 0 1 7.8,0 v7.1 z" fill="url(#pil)"/>
<path d="M418,325.6 v-7.1 a3.9,4.1 0 0 1 7.8,0 v7.1 z" fill="url(#pil)"/>
<path d="M495.9,326.5 v-7.1 a3.9,4.1 0 0 1 7.8,0 v7.1 z" fill="url(#pil)"/>
<path d="M450.9,327.3 v-7.1 a3.9,4.1 0 0 1 7.8,0 v7.1 z" fill="url(#pil)"/>
<path d="M405.9,328.1 v-7.1 a3.9,4.1 0 0 1 7.8,0 v7.1 z" fill="url(#pil)"/>
<path d="M528.8,328.2 v-7.1 a3.9,4.1 0 0 1 7.8,0 v7.1 z" fill="url(#pil)"/>
<path d="M483.8,329 v-7.1 a3.9,4.1 0 0 1 7.8,0 v7.1 z" fill="url(#pil)"/>
<path d="M438.8,329.8 v-7.1 a3.9,4.1 0 0 1 7.8,0 v7.1 z" fill="url(#pil)"/>
<path d="M393.8,330.6 v-7.1 a3.9,4.1 0 0 1 7.8,0 v7.1 z" fill="url(#pil)"/>
<path d="M516.7,330.7 v-7.1 a3.9,4.1 0 0 1 7.8,0 v7.1 z" fill="url(#pil)"/>
<path d="M471.7,331.5 v-7.1 a3.9,4.1 0 0 1 7.8,0 v7.1 z" fill="url(#pil)"/>
<path d="M426.7,332.3 v-7.1 a3.9,4.1 0 0 1 7.8,0 v7.1 z" fill="url(#pil)"/>
<path d="M504.6,333.2 v-7.1 a3.9,4.1 0 0 1 7.8,0 v7.1 z" fill="url(#pil)"/>
<path d="M459.6,334 v-7.1 a3.9,4.1 0 0 1 7.8,0 v7.1 z" fill="url(#pil)"/>
<path d="M414.6,334.8 v-7.1 a3.9,4.1 0 0 1 7.8,0 v7.1 z" fill="url(#pil)"/>
<path d="M537.5,334.9 v-7.1 a3.9,4.1 0 0 1 7.8,0 v7.1 z" fill="url(#pil)"/>
<path d="M492.5,335.7 v-7.1 a3.9,4.1 0 0 1 7.8,0 v7.1 z" fill="url(#pil)"/>
<path d="M447.5,336.5 v-7.1 a3.9,4.1 0 0 1 7.8,0 v7.1 z" fill="url(#pil)"/>
<path d="M402.5,337.3 v-7.1 a3.9,4.1 0 0 1 7.8,0 v7.1 z" fill="url(#pil)"/>
<path d="M525.4,337.4 v-7.1 a3.9,4.1 0 0 1 7.8,0 v7.1 z" fill="url(#pil)"/>
<path d="M480.4,338.2 v-7.1 a3.9,4.1 0 0 1 7.8,0 v7.1 z" fill="url(#pil)"/>
<path d="M435.4,339 v-7.1 a3.9,4.1 0 0 1 7.8,0 v7.1 z" fill="url(#pil)"/>
<path d="M390.4,339.8 v-7.1 a3.9,4.1 0 0 1 7.8,0 v7.1 z" fill="url(#pil)"/>
<path d="M513.3,339.9 v-7.1 a3.9,4.1 0 0 1 7.8,0 v7.1 z" fill="url(#pil)"/>
<path d="M468.3,340.7 v-7.1 a3.9,4.1 0 0 1 7.8,0 v7.1 z" fill="url(#pil)"/>
<path d="M423.3,341.5 v-7.1 a3.9,4.1 0 0 1 7.8,0 v7.1 z" fill="url(#pil)"/>
<path d="M501.2,342.4 v-7.1 a3.9,4.1 0 0 1 7.8,0 v7.1 z" fill="url(#pil)"/>
<path d="M456.2,343.2 v-7.1 a3.9,4.1 0 0 1 7.8,0 v7.1 z" fill="url(#pil)"/>
<path d="M411.2,344 v-7.1 a3.9,4.1 0 0 1 7.8,0 v7.1 z" fill="url(#pil)"/>
<path d="M534.1,344.1 v-7.1 a3.9,4.1 0 0 1 7.8,0 v7.1 z" fill="url(#pil)"/>
<path d="M489.1,344.9 v-7.1 a3.9,4.1 0 0 1 7.8,0 v7.1 z" fill="url(#pil)"/>
<path d="M444.1,345.7 v-7.1 a3.9,4.1 0 0 1 7.8,0 v7.1 z" fill="url(#pil)"/>
<path d="M399.1,346.5 v-7.1 a3.9,4.1 0 0 1 7.8,0 v7.1 z" fill="url(#pil)"/>
<path d="M522,346.6 v-7.1 a3.9,4.1 0 0 1 7.8,0 v7.1 z" fill="url(#pil)"/>
<path d="M477,347.4 v-7.1 a3.9,4.1 0 0 1 7.8,0 v7.1 z" fill="url(#pil)"/>
<path d="M432,348.2 v-7.1 a3.9,4.1 0 0 1 7.8,0 v7.1 z" fill="url(#pil)"/>
<path d="M509.9,349.1 v-7.1 a3.9,4.1 0 0 1 7.8,0 v7.1 z" fill="url(#pil)"/>
<path d="M464.9,349.9 v-7.1 a3.9,4.1 0 0 1 7.8,0 v7.1 z" fill="url(#pil)"/>
<path d="M419.9,350.7 v-7.1 a3.9,4.1 0 0 1 7.8,0 v7.1 z" fill="url(#pil)"/>
<path d="M497.8,351.6 v-7.1 a3.9,4.1 0 0 1 7.8,0 v7.1 z" fill="url(#pil)"/>
<path d="M452.8,352.4 v-7.1 a3.9,4.1 0 0 1 7.8,0 v7.1 z" fill="url(#pil)"/>
<path d="M407.8,353.2 v-7.1 a3.9,4.1 0 0 1 7.8,0 v7.1 z" fill="url(#pil)"/>
<path d="M530.7,353.3 v-7.1 a3.9,4.1 0 0 1 7.8,0 v7.1 z" fill="url(#pil)"/>
<path d="M485.7,354.1 v-7.1 a3.9,4.1 0 0 1 7.8,0 v7.1 z" fill="url(#pil)"/>
<path d="M440.7,354.9 v-7.1 a3.9,4.1 0 0 1 7.8,0 v7.1 z" fill="url(#pil)"/>
<path d="M395.7,355.7 v-7.1 a3.9,4.1 0 0 1 7.8,0 v7.1 z" fill="url(#pil)"/>
<path d="M518.6,355.8 v-7.1 a3.9,4.1 0 0 1 7.8,0 v7.1 z" fill="url(#pil)"/>
<path d="M473.6,356.6 v-7.1 a3.9,4.1 0 0 1 7.8,0 v7.1 z" fill="url(#pil)"/>
<path d="M428.6,357.4 v-7.1 a3.9,4.1 0 0 1 7.8,0 v7.1 z" fill="url(#pil)"/>
<path d="M506.5,358.3 v-7.1 a3.9,4.1 0 0 1 7.8,0 v7.1 z" fill="url(#pil)"/>
<path d="M461.5,359.1 v-7.1 a3.9,4.1 0 0 1 7.8,0 v7.1 z" fill="url(#pil)"/>
<path d="M416.5,359.9 v-7.1 a3.9,4.1 0 0 1 7.8,0 v7.1 z" fill="url(#pil)"/>
<path d="M494.4,360.8 v-7.1 a3.9,4.1 0 0 1 7.8,0 v7.1 z" fill="url(#pil)"/>
<path d="M449.4,361.6 v-7.1 a3.9,4.1 0 0 1 7.8,0 v7.1 z" fill="url(#pil)"/>
<path d="M404.4,362.4 v-7.1 a3.9,4.1 0 0 1 7.8,0 v7.1 z" fill="url(#pil)"/>
<path d="M527.3,362.5 v-7.1 a3.9,4.1 0 0 1 7.8,0 v7.1 z" fill="url(#pil)"/>
<path d="M482.3,363.3 v-7.1 a3.9,4.1 0 0 1 7.8,0 v7.1 z" fill="url(#pil)"/>
<path d="M437.3,364.1 v-7.1 a3.9,4.1 0 0 1 7.8,0 v7.1 z" fill="url(#pil)"/>
<path d="M392.3,364.9 v-7.1 a3.9,4.1 0 0 1 7.8,0 v7.1 z" fill="url(#pil)"/>
<path d="M515.2,365 v-7.1 a3.9,4.1 0 0 1 7.8,0 v7.1 z" fill="url(#pil)"/>
<path d="M470.2,365.8 v-7.1 a3.9,4.1 0 0 1 7.8,0 v7.1 z" fill="url(#pil)"/>
<path d="M425.2,366.6 v-7.1 a3.9,4.1 0 0 1 7.8,0 v7.1 z" fill="url(#pil)"/>
<path d="M503.1,367.5 v-7.1 a3.9,4.1 0 0 1 7.8,0 v7.1 z" fill="url(#pil)"/>
<path d="M458.1,368.3 v-7.1 a3.9,4.1 0 0 1 7.8,0 v7.1 z" fill="url(#pil)"/>
<path d="M413.1,369.1 v-7.1 a3.9,4.1 0 0 1 7.8,0 v7.1 z" fill="url(#pil)"/>
<path d="M536,369.2 v-7.1 a3.9,4.1 0 0 1 7.8,0 v7.1 z" fill="url(#pil)"/>
<path d="M491,370 v-7.1 a3.9,4.1 0 0 1 7.8,0 v7.1 z" fill="url(#pil)"/>
<path d="M446,370.8 v-7.1 a3.9,4.1 0 0 1 7.8,0 v7.1 z" fill="url(#pil)"/>
<path d="M401,371.6 v-7.1 a3.9,4.1 0 0 1 7.8,0 v7.1 z" fill="url(#pil)"/>
<path d="M523.9,371.7 v-7.1 a3.9,4.1 0 0 1 7.8,0 v7.1 z" fill="url(#pil)"/>
<path d="M478.9,372.5 v-7.1 a3.9,4.1 0 0 1 7.8,0 v7.1 z" fill="url(#pil)"/>
<path d="M433.9,373.3 v-7.1 a3.9,4.1 0 0 1 7.8,0 v7.1 z" fill="url(#pil)"/>
<path d="M511.8,374.2 v-7.1 a3.9,4.1 0 0 1 7.8,0 v7.1 z" fill="url(#pil)"/>
<path d="M466.8,375 v-7.1 a3.9,4.1 0 0 1 7.8,0 v7.1 z" fill="url(#pil)"/>
<path d="M421.8,375.8 v-7.1 a3.9,4.1 0 0 1 7.8,0 v7.1 z" fill="url(#pil)"/>
<path d="M499.7,376.7 v-7.1 a3.9,4.1 0 0 1 7.8,0 v7.1 z" fill="url(#pil)"/>
<path d="M454.7,377.5 v-7.1 a3.9,4.1 0 0 1 7.8,0 v7.1 z" fill="url(#pil)"/>
<path d="M409.7,378.3 v-7.1 a3.9,4.1 0 0 1 7.8,0 v7.1 z" fill="url(#pil)"/>
<path d="M532.6,378.4 v-7.1 a3.9,4.1 0 0 1 7.8,0 v7.1 z" fill="url(#pil)"/>
<path d="M487.6,379.2 v-7.1 a3.9,4.1 0 0 1 7.8,0 v7.1 z" fill="url(#pil)"/>
<path d="M442.6,380 v-7.1 a3.9,4.1 0 0 1 7.8,0 v7.1 z" fill="url(#pil)"/>
<path d="M397.6,380.8 v-7.1 a3.9,4.1 0 0 1 7.8,0 v7.1 z" fill="url(#pil)"/>
<path d="M520.5,380.9 v-7.1 a3.9,4.1 0 0 1 7.8,0 v7.1 z" fill="url(#pil)"/>
<path d="M475.5,381.7 v-7.1 a3.9,4.1 0 0 1 7.8,0 v7.1 z" fill="url(#pil)"/>
<path d="M430.5,382.5 v-7.1 a3.9,4.1 0 0 1 7.8,0 v7.1 z" fill="url(#pil)"/>
<path d="M508.4,383.4 v-7.1 a3.9,4.1 0 0 1 7.8,0 v7.1 z" fill="url(#pil)"/>
<path d="M463.4,384.2 v-7.1 a3.9,4.1 0 0 1 7.8,0 v7.1 z" fill="url(#pil)"/>
<path d="M418.4,385 v-7.1 a3.9,4.1 0 0 1 7.8,0 v7.1 z" fill="url(#pil)"/>
<path d="M496.3,385.9 v-7.1 a3.9,4.1 0 0 1 7.8,0 v7.1 z" fill="url(#pil)"/>
<path d="M451.3,386.7 v-7.1 a3.9,4.1 0 0 1 7.8,0 v7.1 z" fill="url(#pil)"/>
<path d="M406.3,387.5 v-7.1 a3.9,4.1 0 0 1 7.8,0 v7.1 z" fill="url(#pil)"/>
<path d="M529.2,387.6 v-7.1 a3.9,4.1 0 0 1 7.8,0 v7.1 z" fill="url(#pil)"/>
</g>
<text x="480.6" y="356.4" font-size="17.5" fill="#fff" text-anchor="start" font-family="Liberation Serif" font-weight="bold">2</text>
<text x="495.4" y="356.4" font-size="17.5" fill="#fff" text-anchor="start" font-family="Liberation Serif" font-weight="bold" textLength="27" lengthAdjust="spacingAndGlyphs">μm</text>
<rect x="474.8" y="365.2" width="54.6" height="3" fill="#fff"/>
<rect x="5" y="6" width="541" height="2" fill="#00a948"/>
<rect x="5" y="402" width="541" height="2" fill="#00a948"/>
<rect x="5" y="6" width="2" height="398" fill="#00a948"/>
<rect x="544" y="6" width="2" height="398" fill="#00a948"/>
<rect x="5" y="148" width="541" height="2" fill="#00a948"/>
<rect x="5" y="259" width="541" height="2" fill="#00a948"/>
</g>
</svg>
</body></html>
